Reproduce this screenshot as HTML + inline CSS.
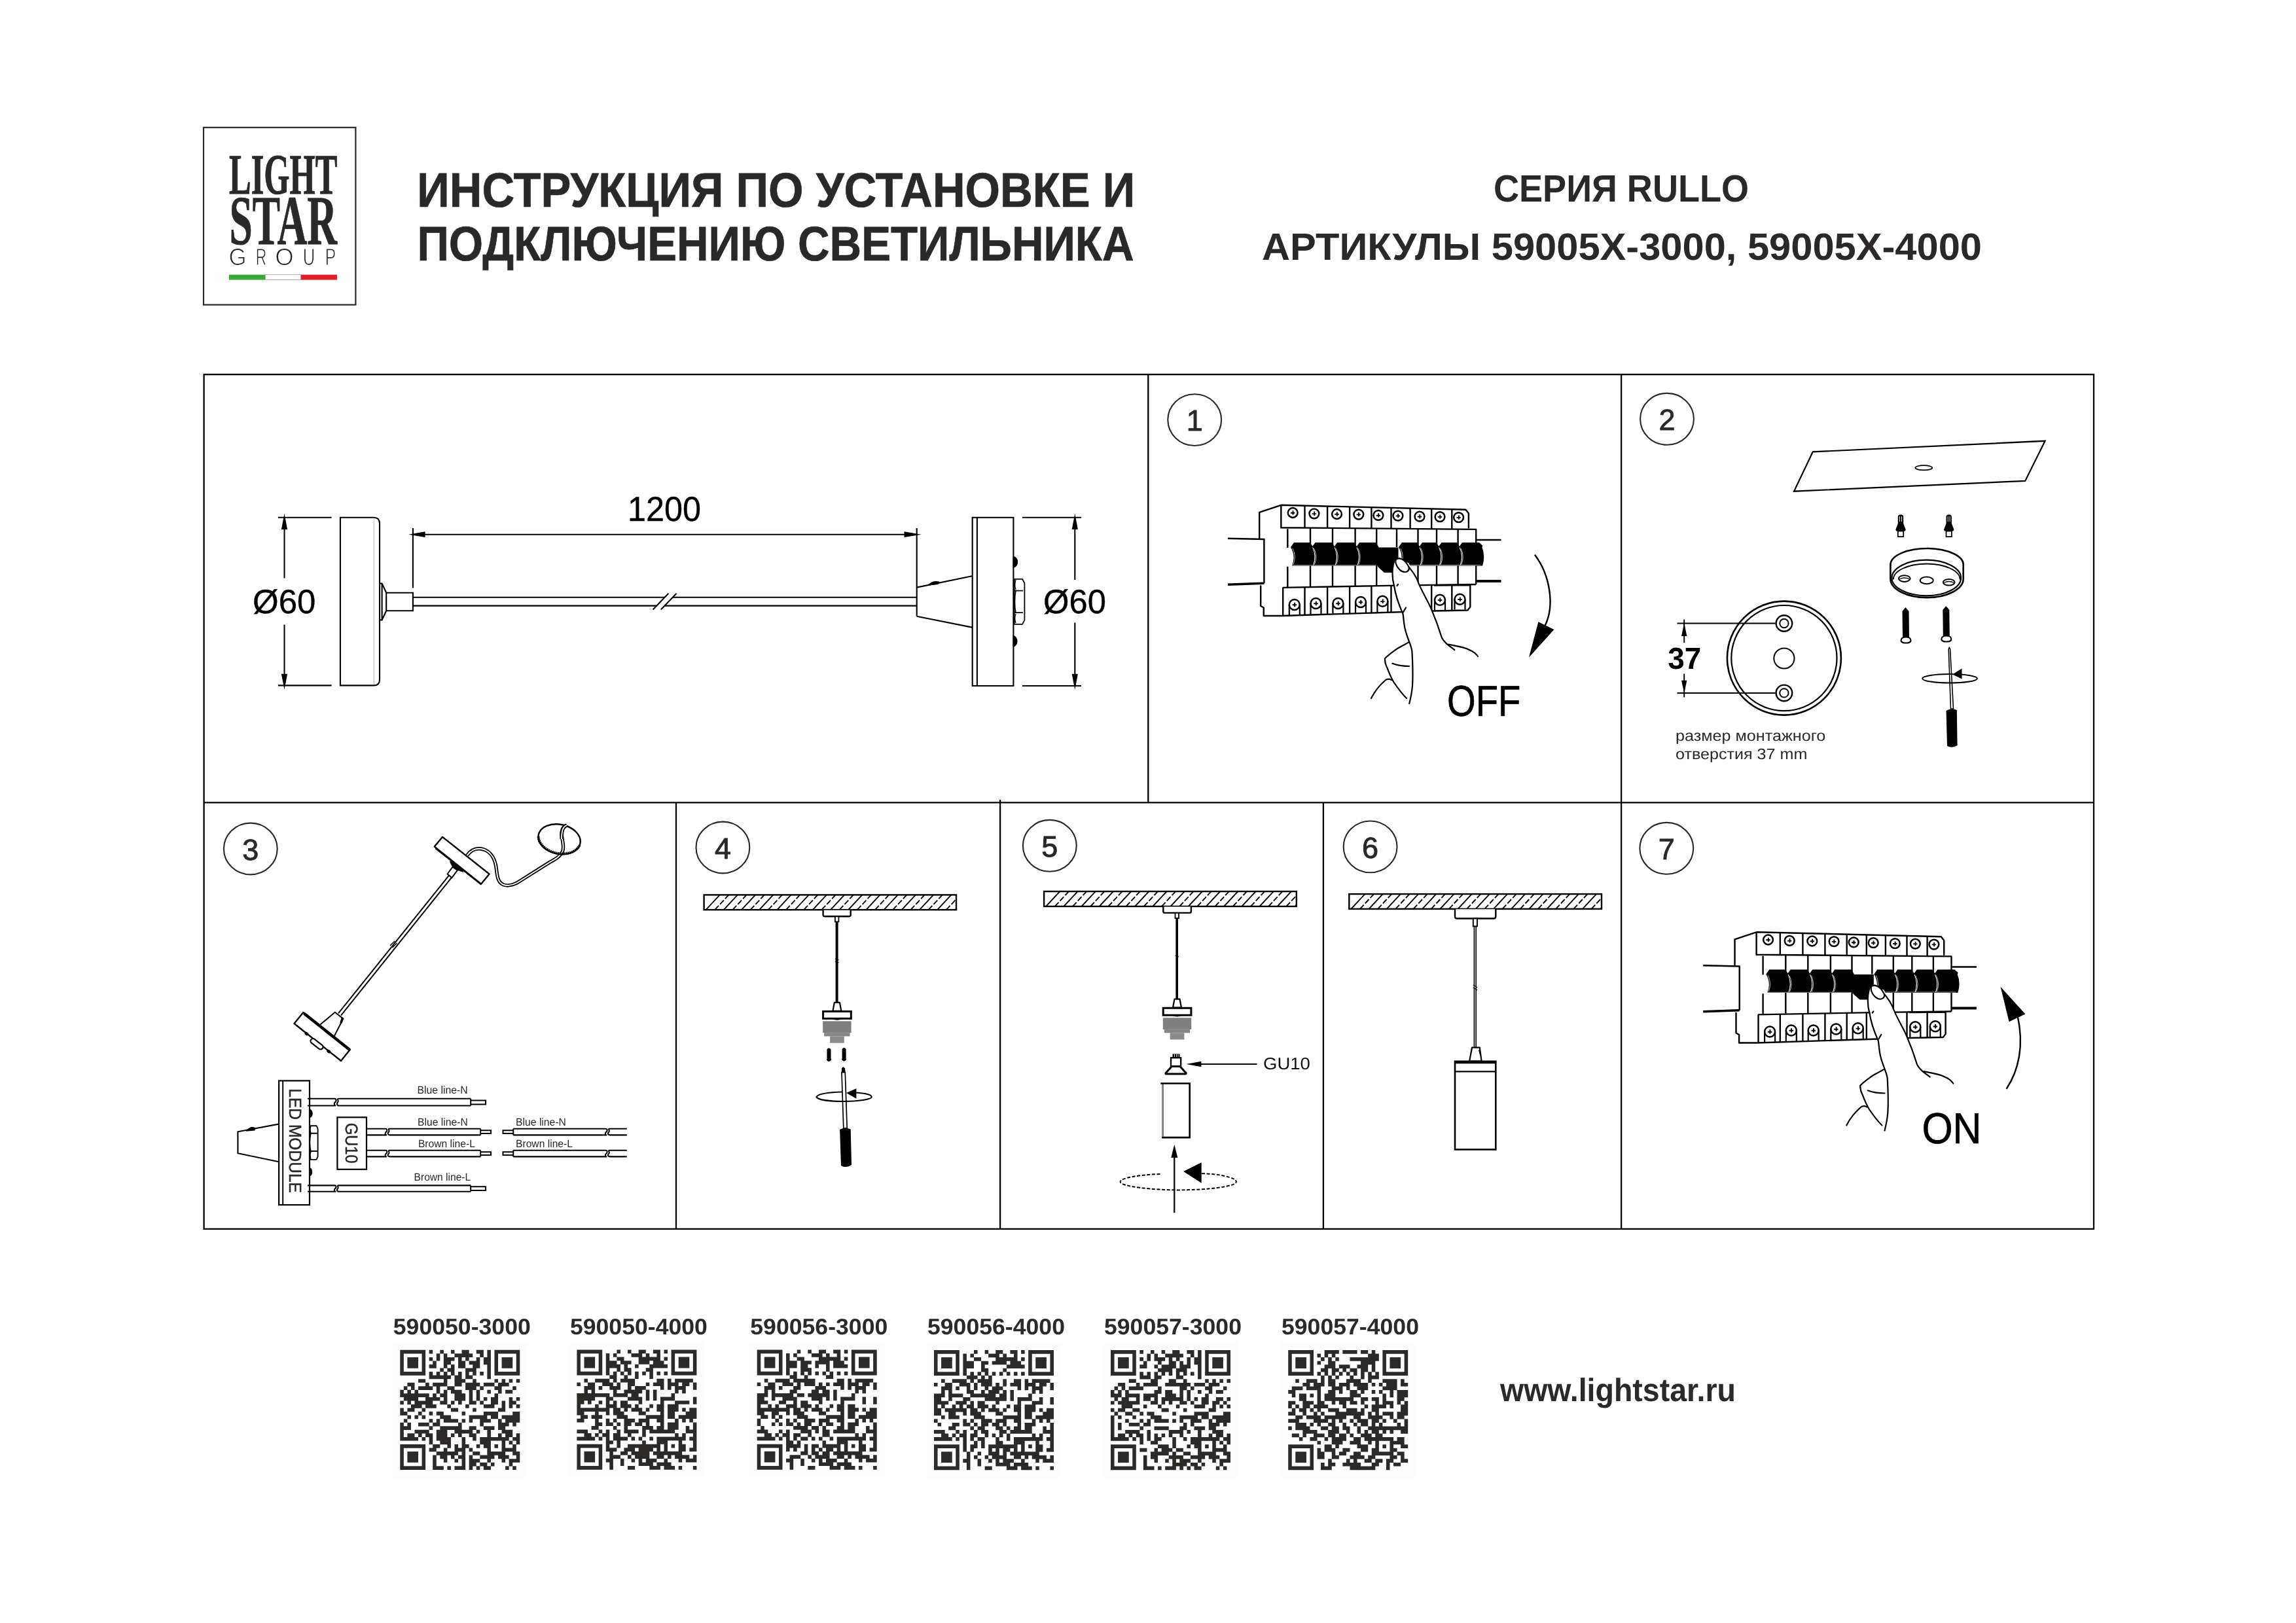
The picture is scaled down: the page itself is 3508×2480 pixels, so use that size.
<!DOCTYPE html>
<html><head><meta charset="utf-8"><title>Lightstar Rullo</title>
<style>html,body{margin:0;padding:0;background:#fff;}svg{display:block;will-change:transform;} text{-webkit-font-smoothing:antialiased;text-rendering:geometricPrecision;} body{-webkit-font-smoothing:antialiased;}</style></head>
<body><svg xmlns="http://www.w3.org/2000/svg" width="3508" height="2480" viewBox="0 0 3508 2480">
<rect width="3508" height="2480" fill="#fff"/>
<rect x="311" y="194.8" width="232.4" height="270.9" fill="none" stroke="#2b2828" stroke-width="2.2"/>
<text x="350" y="296.1" font-family="Liberation Serif" font-size="87.6" font-weight="bold" fill="#2b2828" textLength="165.3" lengthAdjust="spacingAndGlyphs" stroke="#2b2828" stroke-width="1">LIGHT</text>
<text x="350.6" y="373.1" font-family="Liberation Serif" font-size="107.2" font-weight="bold" fill="#2b2828" textLength="164.4" lengthAdjust="spacingAndGlyphs" stroke="#2b2828" stroke-width="0.8">STAR</text>
<text x="363" y="405.3" font-family="Liberation Sans" font-size="36.4" fill="#2b2828" textLength="27" lengthAdjust="spacingAndGlyphs" text-anchor="middle" stroke="#fff" stroke-width="0.9">G</text>
<text x="398.9" y="405.3" font-family="Liberation Sans" font-size="36.4" fill="#2b2828" textLength="16.5" lengthAdjust="spacingAndGlyphs" text-anchor="middle" stroke="#fff" stroke-width="0.9">R</text>
<text x="434.4" y="405.3" font-family="Liberation Sans" font-size="36.4" fill="#2b2828" textLength="28.5" lengthAdjust="spacingAndGlyphs" text-anchor="middle" stroke="#fff" stroke-width="0.9">O</text>
<text x="471.9" y="405.3" font-family="Liberation Sans" font-size="36.4" fill="#2b2828" textLength="18.5" lengthAdjust="spacingAndGlyphs" text-anchor="middle" stroke="#fff" stroke-width="0.9">U</text>
<text x="505.1" y="405.3" font-family="Liberation Sans" font-size="36.4" fill="#2b2828" textLength="16.5" lengthAdjust="spacingAndGlyphs" text-anchor="middle" stroke="#fff" stroke-width="0.9">P</text>
<rect x="350" y="419.7" width="55.3" height="7.9" fill="#3aaa35"/>
<rect x="405.3" y="419.7" width="54.5" height="7.9" fill="#ffffff" stroke="#9a9a9a" stroke-width="0.8"/>
<rect x="459.8" y="419.7" width="55.1" height="7.9" fill="#e31e24"/>
<text x="637.3" y="315.9" font-family="Liberation Sans" font-size="74.3" font-weight="bold" fill="#2b2828" textLength="1097" lengthAdjust="spacingAndGlyphs" stroke="#2b2828" stroke-width="0.7">ИНСТРУКЦИЯ ПО УСТАНОВКЕ И</text>
<text x="637.5" y="397.9" font-family="Liberation Sans" font-size="74.3" font-weight="bold" fill="#2b2828" textLength="1095" lengthAdjust="spacingAndGlyphs" stroke="#2b2828" stroke-width="0.7">ПОДКЛЮЧЕНИЮ СВЕТИЛЬНИКА</text>
<text x="2282" y="308" font-family="Liberation Sans" font-size="58.1" font-weight="bold" fill="#2b2828" textLength="390" lengthAdjust="spacingAndGlyphs" >СЕРИЯ RULLO</text>
<text x="1928" y="397" font-family="Liberation Sans" font-size="58.1" font-weight="bold" fill="#2b2828" textLength="1100" lengthAdjust="spacingAndGlyphs" >АРТИКУЛЫ 59005X-3000, 59005X-4000</text>
<rect x="311.6" y="572.2" width="2887.4" height="1305.7" stroke="#000" stroke-width="2.3" fill="none"/>
<path d="M311.6 1226.3H3199 M1754.3 572.2V1226.3 M2477.1 572.2V1877.9 M1033 1226.3V1877.9 M1528.1 1222V1877.9 M2021.9 1226.3V1877.9" stroke="#000" stroke-width="2.3" fill="none"/>
<ellipse cx="1825.2" cy="641.6" rx="40.9" ry="39.4" fill="none" stroke="#2b2828" stroke-width="2.1"/>
<text x="1825.2" y="658.2" font-family="Liberation Sans" font-size="45" fill="#2b2828" text-anchor="middle" stroke="#2b2828" stroke-width="0.9">1</text>
<ellipse cx="2547" cy="640.3" rx="40.9" ry="39.4" fill="none" stroke="#2b2828" stroke-width="2.1"/>
<text x="2547" y="656.9" font-family="Liberation Sans" font-size="45" fill="#2b2828" text-anchor="middle" stroke="#2b2828" stroke-width="0.9">2</text>
<ellipse cx="382.8" cy="1297" rx="40.9" ry="39.4" fill="none" stroke="#2b2828" stroke-width="2.1"/>
<text x="382.8" y="1313.6" font-family="Liberation Sans" font-size="45" fill="#2b2828" text-anchor="middle" stroke="#2b2828" stroke-width="0.9">3</text>
<ellipse cx="1104.4" cy="1295" rx="40.9" ry="39.4" fill="none" stroke="#2b2828" stroke-width="2.1"/>
<text x="1104.4" y="1311.6" font-family="Liberation Sans" font-size="45" fill="#2b2828" text-anchor="middle" stroke="#2b2828" stroke-width="0.9">4</text>
<ellipse cx="1603.8" cy="1292.3" rx="40.9" ry="39.4" fill="none" stroke="#2b2828" stroke-width="2.1"/>
<text x="1603.8" y="1308.8999999999999" font-family="Liberation Sans" font-size="45" fill="#2b2828" text-anchor="middle" stroke="#2b2828" stroke-width="0.9">5</text>
<ellipse cx="2093.6" cy="1293.9" rx="40.9" ry="39.4" fill="none" stroke="#2b2828" stroke-width="2.1"/>
<text x="2093.6" y="1310.5" font-family="Liberation Sans" font-size="45" fill="#2b2828" text-anchor="middle" stroke="#2b2828" stroke-width="0.9">6</text>
<ellipse cx="2546.3" cy="1296.3" rx="40.9" ry="39.4" fill="none" stroke="#2b2828" stroke-width="2.1"/>
<text x="2546.3" y="1312.8999999999999" font-family="Liberation Sans" font-size="45" fill="#2b2828" text-anchor="middle" stroke="#2b2828" stroke-width="0.9">7</text>
<path d="M424.9 790.8H506.6 M424.9 1047.4H506.6 M434.5 790V883.4 M434.5 954.5V1048" fill="none" stroke="#000" stroke-width="2.1"/>
<path d="M434.5 784.7L429.9 809.0L439.1 809.0Z" fill="#000"/>
<path d="M434.5 1054.0L439.1 1029.7L429.9 1029.7Z" fill="#000"/>
<text x="386" y="937.3" font-family="Liberation Sans" font-size="51.5" fill="#000" textLength="96.3" lengthAdjust="spacingAndGlyphs" stroke="#000" stroke-width="0.4">Ø60</text>
<path d="M519.9 790.8H571 Q580 790.8 580 800 V1038.4 Q580 1047.4 571 1047.4 H519.9Z" fill="none" stroke="#000" stroke-width="2.1"/>
<path d="M571.3 793V1045" stroke="#c8c8c8" stroke-width="1.3"/>
<path d="M580 891.5H583.6L590.2 905.7V933.2L583.6 947.4H580 M583.6 891.5V947.4" fill="none" stroke="#000" stroke-width="2.1"/>
<path d="M590.2 905.7H630.9V933.2H590.2" fill="none" stroke="#000" stroke-width="2.1"/>
<path d="M630.9 912.8H1016 M1028 912.8H1400.7 M630.9 925.6H1004 M1016 925.6H1400.7" fill="none" stroke="#000" stroke-width="2.1"/>
<path d="M997.6 931.5L1021.4 906.8 M1009.8 931.5L1033.6 906.8" fill="none" stroke="#000" stroke-width="2.1"/>
<path d="M630.9 807V898.6 M1400.7 807V941.7 M640 816.7H1395" fill="none" stroke="#000" stroke-width="2.1"/>
<path d="M624.2 816.7L649.6 821.1L649.6 812.3Z" fill="#000"/>
<path d="M1407.5 816.7L1381.5 812.3L1381.5 821.1Z" fill="#000"/>
<text x="959" y="795.9" font-family="Liberation Sans" font-size="53" fill="#000" textLength="112" lengthAdjust="spacingAndGlyphs" stroke="#000" stroke-width="0.4">1200</text>
<path d="M1400.7 897.6L1485.1 880.3 M1400.7 941.7L1485.1 958.6" fill="none" stroke="#000" stroke-width="2.1"/>
<path d="M1419.5 893.5 Q1426 887.5 1434 889.5 L1433 892 Z" fill="#000" stroke="#000" stroke-width="2"/>
<rect x="1485.7" y="790.8" width="62.7" height="257.2" fill="none" stroke="#000" stroke-width="2.1"/>
<path d="M1492.9 790.8V1048" fill="none" stroke="#000" stroke-width="2.1"/>
<path d="M1548.4 850.8 A6 7.8 0 0 1 1548.4 866.5Z M1548.4 971.8 A6 8 0 0 1 1548.4 987.7Z" fill="#000" stroke="#000" stroke-width="1.5"/>
<path d="M1549.8 884.8H1562L1565.4 891V947.6L1562 953.9H1549.8Z M1549.8 902.7H1563 M1549.8 936.2H1563" fill="none" stroke="#000" stroke-width="1.8"/>
<path d="M1552 902.7 Q1549 919.5 1552 936.2" fill="none" stroke="#000" stroke-width="1.5"/>
<path d="M1552 886 Q1549.5 894 1552 901 M1552 938 Q1549.5 945 1552 952" fill="none" stroke="#000" stroke-width="1.3"/>
<path d="M1562 790.8H1651.9 M1562 1048H1651.9 M1642.3 790V886 M1642.3 951.5V1048" fill="none" stroke="#000" stroke-width="2.1"/>
<path d="M1642.3 784.7L1637.7 809.0L1646.9 809.0Z" fill="#000"/>
<path d="M1642.3 1054.0L1646.9 1029.7L1637.7 1029.7Z" fill="#000"/>
<text x="1594.1" y="937.3" font-family="Liberation Sans" font-size="51.5" fill="#000" textLength="95.8" lengthAdjust="spacingAndGlyphs" stroke="#000" stroke-width="0.4">Ø60</text>
<g id="brk"><path d="M1875.9 822.7L1931.4 824V891.3 M1924.2 822.7V782.9L1957.3 771.8 M1926.2 894.6V926L1930.8 928.5V941H1958.9" fill="none" stroke="#000" stroke-width="2.4" stroke-linejoin="round"/>
<path d="M1875.9 893.3L1931.4 891.3" stroke="#000" stroke-width="3.6"/>
<path d="M1957.3 771.8L2239.4 778.7L2243.9 784.6V807.3 M1957.3 771.8V806.2 M1956.3 806.2L2255.2 808.9V893" fill="none" stroke="#000" stroke-width="2.4" stroke-linejoin="round"/>
<path d="M1993.5 772.7V806.5" fill="none" stroke="#000" stroke-width="2.4" stroke-linejoin="round"/>
<path d="M2028.1 773.5V806.8" fill="none" stroke="#000" stroke-width="2.4" stroke-linejoin="round"/>
<path d="M2062.1 774.4V807.2" fill="none" stroke="#000" stroke-width="2.4" stroke-linejoin="round"/>
<path d="M2095.4 775.2V807.5" fill="none" stroke="#000" stroke-width="2.4" stroke-linejoin="round"/>
<path d="M2125.5 775.9V807.7" fill="none" stroke="#000" stroke-width="2.4" stroke-linejoin="round"/>
<path d="M2154.6 776.6V808.0" fill="none" stroke="#000" stroke-width="2.4" stroke-linejoin="round"/>
<path d="M2187.2 777.4V808.3" fill="none" stroke="#000" stroke-width="2.4" stroke-linejoin="round"/>
<path d="M2218.3 778.2V808.6" fill="none" stroke="#000" stroke-width="2.4" stroke-linejoin="round"/>
<circle cx="1975.2" cy="783.5" r="7.4" fill="none" stroke="#000" stroke-width="2.5"/><path d="M1972.0 783.8H1978.4 M1975.5 780.3V786.7" fill="none" stroke="#000" stroke-width="1.9"/>
<circle cx="2007.9" cy="784.8" r="7.4" fill="none" stroke="#000" stroke-width="2.5"/><path d="M2004.7 785.0999999999999H2011.1000000000001 M2008.2 781.5999999999999V788.0" fill="none" stroke="#000" stroke-width="1.9"/>
<circle cx="2042.5" cy="785.5" r="7.4" fill="none" stroke="#000" stroke-width="2.5"/><path d="M2039.3 785.8H2045.7 M2042.8 782.3V788.7" fill="none" stroke="#000" stroke-width="1.9"/>
<circle cx="2075.8" cy="786.1" r="7.4" fill="none" stroke="#000" stroke-width="2.5"/><path d="M2072.6000000000004 786.4H2079.0 M2076.1000000000004 782.9V789.3000000000001" fill="none" stroke="#000" stroke-width="1.9"/>
<circle cx="2105.9" cy="787.4" r="7.4" fill="none" stroke="#000" stroke-width="2.5"/><path d="M2102.7000000000003 787.6999999999999H2109.1 M2106.2000000000003 784.1999999999999V790.6" fill="none" stroke="#000" stroke-width="1.9"/>
<circle cx="2135.9" cy="788.1" r="7.4" fill="none" stroke="#000" stroke-width="2.5"/><path d="M2132.7000000000003 788.4H2139.1 M2136.2000000000003 784.9V791.3000000000001" fill="none" stroke="#000" stroke-width="1.9"/>
<circle cx="2169" cy="789.2" r="7.4" fill="none" stroke="#000" stroke-width="2.5"/><path d="M2165.8 789.5H2172.2 M2169.3 786.0V792.4000000000001" fill="none" stroke="#000" stroke-width="1.9"/>
<circle cx="2200" cy="789.6" r="7.4" fill="none" stroke="#000" stroke-width="2.5"/><path d="M2196.8 789.9H2203.2 M2200.3 786.4V792.8000000000001" fill="none" stroke="#000" stroke-width="1.9"/>
<circle cx="2228.6" cy="790.6" r="7.4" fill="none" stroke="#000" stroke-width="2.5"/><path d="M2225.4 790.9H2231.7999999999997 M2228.9 787.4V793.8000000000001" fill="none" stroke="#000" stroke-width="1.9"/>
<path d="M1967.3 808.3V837 M1967.3 865.8V897.5" fill="none" stroke="#000" stroke-width="2.4" stroke-linejoin="round"/>
<path d="M2002 806.6V836 M2002 864V896.0" fill="none" stroke="#000" stroke-width="2.4" stroke-linejoin="round"/>
<path d="M2036 806.9V836 M2036 864V896.0" fill="none" stroke="#000" stroke-width="2.4" stroke-linejoin="round"/>
<path d="M2070.6 807.2V836 M2070.6 864V895.8" fill="none" stroke="#000" stroke-width="2.4" stroke-linejoin="round"/>
<path d="M2103.2 807.5V836 M2103.2 864V895.2" fill="none" stroke="#000" stroke-width="2.4" stroke-linejoin="round"/>
<path d="M2134 807.8V836 M2134 864V894.6" fill="none" stroke="#000" stroke-width="2.4" stroke-linejoin="round"/>
<path d="M2166.5 808.1V836 M2166.5 864V894.0" fill="none" stroke="#000" stroke-width="2.4" stroke-linejoin="round"/>
<path d="M2195 808.4V836 M2195 864V893.5" fill="none" stroke="#000" stroke-width="2.4" stroke-linejoin="round"/>
<path d="M2227.6 808.6V836 M2227.6 864V892.9" fill="none" stroke="#000" stroke-width="2.4" stroke-linejoin="round"/>
<path d="M2135 894.6L2255.2 893" fill="none" stroke="#000" stroke-width="2.4" stroke-linejoin="round"/>
<path d="M1972 836 L1977 829 H2001.5 L2005.5 835 Q2011.5 850 2006.5 864.5 H1974 Q1980 850 1972 836ZM2004.5 836 L2009.5 829 H2035 L2039 835 Q2045 850 2040 864.5 H2006.5 Q2012.5 850 2004.5 836ZM2038 836 L2043 829 H2069 L2073 835 Q2079 850 2074 864.5 H2040 Q2046 850 2038 836ZM2072 836 L2077 829 H2102 L2106 835 Q2112 850 2107 864.5 H2074 Q2080 850 2072 836ZM2137 836 L2142 829 H2165 L2169 835 Q2175 850 2170 864.5 H2139 Q2145 850 2137 836ZM2168 836 L2173 829 H2194.5 L2198.5 835 Q2204.5 850 2199.5 864.5 H2170 Q2176 850 2168 836ZM2197.5 836 L2202.5 829 H2226 L2230 835 Q2236 850 2231 864.5 H2199.5 Q2205.5 850 2197.5 836ZM2229 836 L2234 829 H2260 L2264 835 Q2270 850 2265 864.5 H2231 Q2237 850 2229 836Z" fill="#000"/>
<path d="M2005.7 836.5 Q2011.8 850 2006.7 863.5" fill="none" stroke="#fff" stroke-width="1"/>
<path d="M2039.2 836.5 Q2045.3 850 2040.2 863.5" fill="none" stroke="#fff" stroke-width="1"/>
<path d="M2073.2 836.5 Q2079.3 850 2074.2 863.5" fill="none" stroke="#fff" stroke-width="1"/>
<path d="M2169.2 836.5 Q2175.3 850 2170.2 863.5" fill="none" stroke="#fff" stroke-width="1"/>
<path d="M2198.7 836.5 Q2204.8 850 2199.7 863.5" fill="none" stroke="#fff" stroke-width="1"/>
<path d="M2230.2 836.5 Q2236.3 850 2231.2 863.5" fill="none" stroke="#fff" stroke-width="1"/>
<path d="M1975 838 Q1981 850 1976 862.5" fill="none" stroke="#fff" stroke-width="0.7"/>
<path d="M2007.5 838 Q2013.5 850 2008.5 862.5" fill="none" stroke="#fff" stroke-width="0.7"/>
<path d="M2041 838 Q2047 850 2042 862.5" fill="none" stroke="#fff" stroke-width="0.7"/>
<path d="M2075 838 Q2081 850 2076 862.5" fill="none" stroke="#fff" stroke-width="0.7"/>
<path d="M2140 838 Q2146 850 2141 862.5" fill="none" stroke="#fff" stroke-width="0.7"/>
<path d="M2171 838 Q2177 850 2172 862.5" fill="none" stroke="#fff" stroke-width="0.7"/>
<path d="M2200.5 838 Q2206.5 850 2201.5 862.5" fill="none" stroke="#fff" stroke-width="0.7"/>
<path d="M2232 838 Q2238 850 2233 862.5" fill="none" stroke="#fff" stroke-width="0.7"/>
<path d="M2260 829 L2265.5 834 L2261 842 Q2262 852 2258 860 L2255 864.5 H2262Z" fill="#000"/>
<path d="M1972 863.8 H2103 M2137 863.5 H2262" stroke="#fff" stroke-width="0.6"/>
<path d="M2104 836.5H2136.5V875H2115L2105 866Z" fill="#000"/>
<path d="M1959.5 897.9L2135.3 894.6 M1960.2 897.9V941 M1958.9 941L2191 933.5L2242.4 932.5L2246.3 927.5V894L2191 894.5" fill="none" stroke="#000" stroke-width="2.4" stroke-linejoin="round"/>
<path d="M1993.5 897.3V939.9" fill="none" stroke="#000" stroke-width="2.4" stroke-linejoin="round"/>
<path d="M2028.1 896.6V938.7" fill="none" stroke="#000" stroke-width="2.4" stroke-linejoin="round"/>
<path d="M2062.1 896.0V937.6" fill="none" stroke="#000" stroke-width="2.4" stroke-linejoin="round"/>
<path d="M2095.4 895.3V936.6" fill="none" stroke="#000" stroke-width="2.4" stroke-linejoin="round"/>
<path d="M2125.5 894.8V935.6" fill="none" stroke="#000" stroke-width="2.4" stroke-linejoin="round"/>
<path d="M2187.2 894.3V933.6" fill="none" stroke="#000" stroke-width="2.4" stroke-linejoin="round"/>
<path d="M2218.3 894.3V932.5" fill="none" stroke="#000" stroke-width="2.4" stroke-linejoin="round"/>
<circle cx="1977.8" cy="924" r="8" fill="none" stroke="#000" stroke-width="2.5"/><path d="M1974.6 924.3H1981.0 M1978.1 920.8V927.2" fill="none" stroke="#000" stroke-width="1.9"/>
<path d="M1969.8 924V939.9 M1985.8 924V939.9" fill="none" stroke="#000" stroke-width="2.2"/>
<circle cx="2010.5" cy="922" r="8" fill="none" stroke="#000" stroke-width="2.5"/><path d="M2007.3 922.3H2013.7 M2010.8 918.8V925.2" fill="none" stroke="#000" stroke-width="1.9"/>
<path d="M2002.5 922V938.8 M2018.5 922V938.8" fill="none" stroke="#000" stroke-width="2.2"/>
<circle cx="2044.4" cy="922" r="8" fill="none" stroke="#000" stroke-width="2.5"/><path d="M2041.2 922.3H2047.6000000000001 M2044.7 918.8V925.2" fill="none" stroke="#000" stroke-width="1.9"/>
<path d="M2036.4 922V937.7 M2052.4 922V937.7" fill="none" stroke="#000" stroke-width="2.2"/>
<circle cx="2079" cy="920" r="8" fill="none" stroke="#000" stroke-width="2.5"/><path d="M2075.8 920.3H2082.2 M2079.3 916.8V923.2" fill="none" stroke="#000" stroke-width="1.9"/>
<path d="M2071 920V936.6 M2087 920V936.6" fill="none" stroke="#000" stroke-width="2.2"/>
<circle cx="2112.4" cy="918.8" r="8" fill="none" stroke="#000" stroke-width="2.5"/><path d="M2109.2000000000003 919.0999999999999H2115.6 M2112.7000000000003 915.5999999999999V922.0" fill="none" stroke="#000" stroke-width="1.9"/>
<path d="M2104.4 918.8V935.5 M2120.4 918.8V935.5" fill="none" stroke="#000" stroke-width="2.2"/>
<circle cx="2200" cy="916.7" r="8" fill="none" stroke="#000" stroke-width="2.5"/><path d="M2196.8 917.0H2203.2 M2200.3 913.5V919.9000000000001" fill="none" stroke="#000" stroke-width="1.9"/>
<path d="M2192 916.7V932.6 M2208 916.7V932.6" fill="none" stroke="#000" stroke-width="2.2"/>
<circle cx="2230.5" cy="915.7" r="8" fill="none" stroke="#000" stroke-width="2.5"/><path d="M2227.3 916.0H2233.7 M2230.8 912.5V918.9000000000001" fill="none" stroke="#000" stroke-width="1.9"/>
<path d="M2222.5 915.7V931.6 M2238.5 915.7V931.6" fill="none" stroke="#000" stroke-width="2.2"/>
<path d="M2256 825H2293.6" stroke="#000" stroke-width="2.4"/>
<path d="M2256 888H2293.6" stroke="#000" stroke-width="3.8"/>
<path d="M2130 855 Q2125 870 2129.9 889.9 L2134.9 908.2 L2143.2 936.5 L2144.9 953.1 L2153.2 978.1 L2157.4 993 L2158.2 1043 L2170 1043 L2213 984.7 L2203.1 974.7 L2186.5 929.8 L2164.9 884.9 L2152 860 Z" fill="#fff"/>
<path d="M2131 855 C2126 868 2127 885 2130 895 C2133 915 2140 930 2143.5 938 C2145 948 2145 955 2147 962 C2150 975 2156 985 2157.4 995 C2158.5 1015 2158.5 1040 2158 1048 C2157 1060 2155 1068 2153.2 1075" fill="none" stroke="#000" stroke-width="2.2" stroke-linecap="round" stroke-linejoin="round"/>
<path d="M2138.5 853 C2150 862 2160 875 2165 885 C2170 900 2180 915 2186.5 929.8 C2193 945 2200 965 2203 974.7 C2207 982 2213 986 2222.3 993" fill="none" stroke="#000" stroke-width="2.2" stroke-linecap="round" stroke-linejoin="round"/>
<path d="M2213.1 984.7 C2225 987 2238 989 2245 993 C2252 996 2256 1000 2258 1003" fill="none" stroke="#000" stroke-width="2.2" stroke-linecap="round" stroke-linejoin="round"/>
<path d="M2134 854 C2140 852 2146 856 2150 862 C2154 868 2154 872 2148 874 C2141 875 2135 868 2133 862 C2132 858 2132 855 2134 854Z" fill="#fff" stroke="#000" stroke-width="2.2"/>
<path d="M2143.5 936 L2148 928.5 M2134.5 895 L2136 893" fill="none" stroke="#000" stroke-width="2.2" stroke-linecap="round" stroke-linejoin="round"/>
<path d="M2152.4 981.4 C2143 987 2135 990 2129.9 994.7 C2124 999 2119 1003 2115.8 1006.4 C2116 1012 2117 1016 2119.1 1019.7 C2123 1030 2126 1037 2129.9 1043 C2136 1052 2142 1060 2149 1067" fill="none" stroke="#000" stroke-width="2.2" stroke-linecap="round" stroke-linejoin="round"/>
<path d="M2127.4 1013.8 C2135 1017 2145 1018 2153.2 1018" fill="none" stroke="#000" stroke-width="2.2" stroke-linecap="round" stroke-linejoin="round"/>
<path d="M2095 1067 C2100 1057 2108 1047 2116 1040 C2119 1037 2122 1037 2126 1039" fill="none" stroke="#000" stroke-width="2.2" stroke-linecap="round" stroke-linejoin="round"/></g>
<path d="M2344.9 847.7 C2368 878 2376 925 2360.5 956" fill="none" stroke="#000" stroke-width="2.4"/>
<path d="M2336 1004.4 L2350.4 950.2 L2374.4 962 Z" fill="#000"/>
<text x="2211" y="1094" font-family="Liberation Sans" font-size="66.5" fill="#000" textLength="112.2" lengthAdjust="spacingAndGlyphs" stroke="#000" stroke-width="0.7">OFF</text>
<use href="#brk" transform="translate(726.3 652.5)"/>
<path d="M3065.6 1663.8 C3084 1636 3093 1598 3082.5 1552" fill="none" stroke="#000" stroke-width="2.4"/>
<path d="M3056.6 1508 L3069.6 1561.3 L3094.4 1549.4 Z" fill="#000"/>
<text x="2936.4" y="1746.6" font-family="Liberation Sans" font-size="66.5" fill="#000" textLength="91" lengthAdjust="spacingAndGlyphs" stroke="#000" stroke-width="0.7">ON</text>
<path d="M2769.8 690.4 L3124.6 673.8 L3094.2 734.9 L2741 750.7 Z" fill="none" stroke="#000" stroke-width="2.2"/>
<ellipse cx="2939.3" cy="714.8" rx="13" ry="3.6" fill="none" stroke="#000" stroke-width="1.8"/>
<path d="M2899.8 800 V790 Q2899.8 786.3 2904 786.3 Q2908.2 786.3 2908.2 790 V800 L2911.8 809.5 L2910.5 811.5 H2897.5 L2896.2 809.5 Z" fill="#000"/><path d="M2902.5 789V797 M2905.5 789V797" stroke="#fff" stroke-width="0.9"/><rect x="2899.8" y="811.5" width="8.4" height="8.6" fill="#fff" stroke="#000" stroke-width="1.8"/>
<path d="M2973.5 800 V790 Q2973.5 786.3 2977.7 786.3 Q2981.8999999999996 786.3 2981.8999999999996 790 V800 L2985.5 809.5 L2984.2 811.5 H2971.2 L2969.8999999999996 809.5 Z" fill="#000"/><path d="M2976.2 789V797 M2979.2 789V797" stroke="#fff" stroke-width="0.9"/><rect x="2973.5" y="811.5" width="8.4" height="8.6" fill="#fff" stroke="#000" stroke-width="1.8"/>
<path d="M2888.4 862 A55.6 25 0 0 1 2999.7 864 V884.5 A55.6 28.6 0 0 1 2888.4 884.5 Z" fill="#fff" stroke="#000" stroke-width="2.6"/>
<ellipse cx="2943.3" cy="883" rx="52.8" ry="27.3" fill="none" stroke="#000" stroke-width="2.2"/>
<path d="M2892.7 885.5 A51 24 0 0 1 2994.7 885.5" fill="none" stroke="#000" stroke-width="1.8"/>
<ellipse cx="2909.7" cy="884.1" rx="8.9" ry="4.8" fill="none" stroke="#000" stroke-width="2"/>
<path d="M2902 885 Q2909.7 881 2917.5 885" fill="none" stroke="#000" stroke-width="1.3"/>
<ellipse cx="2943.7" cy="886.9" rx="10" ry="5.3" fill="none" stroke="#000" stroke-width="2"/>
<ellipse cx="2977.7" cy="889.8" rx="8.9" ry="4.8" fill="none" stroke="#000" stroke-width="2"/>
<path d="M2970 890.5 Q2977.7 886.5 2985.5 890.5" fill="none" stroke="#000" stroke-width="1.3"/>
<path d="M2911.5 928 L2916.5 934 L2917 975 L2907 975 L2906.5 934 Z" fill="#000"/><path d="M2904.5 979 Q2904.5 973.5 2912 973.5 Q2919.5 973.5 2919.5 979 Q2919 982.5 2912 982.5 Q2905 982.5 2904.5 979Z" fill="#fff" stroke="#000" stroke-width="2.2"/>
<path d="M2973.3 926 L2978.3 932 L2978.8 973 L2968.8 973 L2968.3 932 Z" fill="#000"/><path d="M2966.3 977 Q2966.3 971.5 2973.8 971.5 Q2981.3 971.5 2981.3 977 Q2980.8 980.5 2973.8 980.5 Q2966.8 980.5 2966.3 977Z" fill="#fff" stroke="#000" stroke-width="2.2"/>
<path d="M2977.2 992 L2978.2 989.5 L2979.6 992 L2984.5 1083 L2980.5 1083 Z" fill="#fff" stroke="#000" stroke-width="1.6"/>
<path d="M2973.5 1086 Q2981.5 1081 2989.8 1085 L2990.6 1139 Q2982.5 1144 2975 1140 Z" fill="#000"/>
<ellipse cx="2979" cy="1036.8" rx="41.9" ry="6.8" fill="none" stroke="#000" stroke-width="2"/>
<path d="M2983.2 1030.6 L2997.5 1021.4 L2997.5 1037.4 Z" fill="#000"/>
<circle cx="2725.9" cy="1005.6" r="87" fill="none" stroke="#000" stroke-width="2.6"/>
<circle cx="2725.9" cy="1005.6" r="80.6" fill="none" stroke="#000" stroke-width="2.2"/>
<circle cx="2725.9" cy="1006" r="15.6" fill="none" stroke="#000" stroke-width="2"/>
<circle cx="2725.9" cy="952.5" r="12.3" fill="#fff" stroke="#000" stroke-width="2.4"/>
<circle cx="2725.9" cy="952.5" r="6.7" fill="none" stroke="#000" stroke-width="2"/>
<circle cx="2725.9" cy="1058.9" r="12.3" fill="#fff" stroke="#000" stroke-width="2.4"/>
<circle cx="2725.9" cy="1058.9" r="6.7" fill="none" stroke="#000" stroke-width="2"/>
<path d="M2562.5 952.5H2712.5 M2562.5 1058.9H2712.5 M2573.2 946.5V982 M2573.2 1029.6V1065.4" fill="none" stroke="#000" stroke-width="2"/>
<path d="M2573.2 952.0L2569.0 972.0L2577.4 972.0Z" fill="#000"/>
<path d="M2573.2 1059.0L2577.4 1039.8L2569.0 1039.8Z" fill="#000"/>
<text x="2548.3" y="1022.4" font-family="Liberation Sans" font-size="46.5" font-weight="bold" fill="#000" textLength="51.1" lengthAdjust="spacingAndGlyphs" >37</text>
<text x="2560" y="1132" font-family="Liberation Sans" font-size="23.3" fill="#2b2828" textLength="229.3" lengthAdjust="spacingAndGlyphs" >размер монтажного</text>
<text x="2560" y="1159.6" font-family="Liberation Sans" font-size="23.3" fill="#2b2828" textLength="201.4" lengthAdjust="spacingAndGlyphs" >отверстия 37 mm</text>
<path d="M463.4 1547.1 L534.9 1603.7 L521 1621 L449.5 1564 Z" fill="#fff" stroke="#000" stroke-width="2.4" stroke-linejoin="round"/>
<path d="M464.5 1548.5 L534 1604" stroke="#000" stroke-width="4.5"/>
<path d="M488.8 1566.1 L511.8 1546.8 L524.4 1556.6 L510.8 1583" fill="none" stroke="#000" stroke-width="2"/>
<path d="M523.5 1555 L521 1563" stroke="#000" stroke-width="3.5"/>
<ellipse cx="468.5" cy="1579.6" rx="3.2" ry="2.4" fill="#000" transform="rotate(38 468.5 1579.6)"/>
<ellipse cx="502.3" cy="1606.7" rx="3.2" ry="2.4" fill="#000" transform="rotate(38 502.3 1606.7)"/>
<rect x="473" y="1591.5" width="22" height="7.5" rx="3.7" fill="#fff" stroke="#000" stroke-width="2.2" transform="rotate(38 484 1595.2)"/>
<path d="M517.0 1548.4 L687.0 1336.4" stroke="#000" stroke-width="2"/>
<path d="M521.0 1551.6 L691.0 1339.6" stroke="#000" stroke-width="2"/>
<path d="M596 1445 L603 1438 M599.5 1448 L606.5 1441" stroke="#000" stroke-width="1.5"/>
<path d="M691.5 1324.7 L698.9 1329.8 L690.4 1341.2 L683.6 1335.5 Z" fill="#fff" stroke="#000" stroke-width="2"/>
<path d="M689 1318 Q692 1327 706 1331 L703 1325 Z" fill="#000" stroke="#000" stroke-width="2.5"/>
<path d="M676 1278.9 L747.6 1335.5 L735.1 1350.8 L663.8 1293.6 Z" fill="#fff" stroke="#000" stroke-width="2.4" stroke-linejoin="round"/>
<path d="M665 1296.5 L735 1352" stroke="#000" stroke-width="1.4"/>
<path d="M713.6 1307.2 C720 1298 728 1296 735 1297 C748 1299 755 1310 757.5 1322 C759.5 1333 759 1345 766 1350 C772 1355 782 1353 790 1349 L839.3 1317.9 C848 1313 856 1309 859.5 1301 C863 1292 858 1282 858 1274 C858 1267 861 1263 866 1261" fill="none" stroke="#000" stroke-width="5.4"/>
<path d="M713.6 1307.2 C720 1298 728 1296 735 1297 C748 1299 755 1310 757.5 1322 C759.5 1333 759 1345 766 1350 C772 1355 782 1353 790 1349 L839.3 1317.9 C848 1313 856 1309 859.5 1301 C863 1292 858 1282 858 1274 C858 1267 861 1263 866 1261" fill="none" stroke="#fff" stroke-width="1.8"/>
<g transform="rotate(12 854.6 1282.3)"><ellipse cx="854.6" cy="1282.3" rx="32.5" ry="22.5" fill="none" stroke="#000" stroke-width="2.4"/><path d="M822.5 1285 A32.5 22.5 0 0 0 886.7 1285" fill="none" stroke="#000" stroke-width="4" stroke-dasharray="2 1"/></g>
<path d="M858 1282 C858 1267 861 1263 866 1261" fill="none" stroke="#000" stroke-width="5.4"/>
<path d="M858 1282 C858 1267 861 1263 866 1261" fill="none" stroke="#fff" stroke-width="1.8"/>
<rect x="426.1" y="1651.4" width="46.9" height="189.7" fill="none" stroke="#000" stroke-width="2.2"/>
<path d="M432.2 1651.4V1841.1" stroke="#000" stroke-width="2"/>
<text x="0" y="0" font-family="Liberation Sans" font-size="26.3" fill="#2b2828" textLength="159.7" lengthAdjust="spacingAndGlyphs" stroke="#2b2828" stroke-width="0.5" transform="translate(441.9 1663.3) rotate(90)">LED MODULE</text>
<path d="M425.9 1717.6 L363.4 1729.3 V1762.2 L425.9 1775.2" fill="none" stroke="#000" stroke-width="2.1"/>
<path d="M378 1727.5 Q383 1721 389 1724 L388.5 1726.5Z" fill="#000" stroke="#000" stroke-width="2.2"/>
<path d="M473 1695.6 A4 5.8 0 0 1 473 1707.3Z M473 1785 A4 5.8 0 0 1 473 1796.5Z" fill="#000" stroke="#000" stroke-width="1.5"/>
<path d="M473 1720.2H483.5L485.6 1725V1767L483.5 1771.9H473 M473.5 1731.8H484.5 M473.5 1759H484.5" fill="none" stroke="#000" stroke-width="1.9"/>
<path d="M475 1732 Q472 1745.4 475 1759 M475 1721 Q473 1726 475 1731 M475 1760 Q473 1765 475 1771" fill="none" stroke="#000" stroke-width="1.4"/>
<path d="M470.1 1678.8H511.20000000000005 C514.2 1678.8 514.2 1682.545 512.2 1684.15 C510.20000000000005 1685.7549999999999 510.20000000000005 1689.5 513.2 1689.5 H470.1" fill="none" stroke="#000" stroke-width="2.1"/><path d="M719.2 1678.8H517.2 C514.2 1678.8 518.2 1682.545 516.2 1684.15 C514.2 1685.7549999999999 514.2 1689.5 518.2 1689.5 H719.2" fill="none" stroke="#000" stroke-width="2.1"/>
<path d="M719.2 1678.8V1689.5 M719.2 1681.6H742.1V1687.5H719.2" fill="none" stroke="#000" stroke-width="2"/>
<path d="M470.1 1811.4H511.20000000000005 C514.2 1811.4 514.2 1814.655 512.2 1816.0500000000002 C510.20000000000005 1817.4450000000002 510.20000000000005 1820.7 513.2 1820.7 H470.1" fill="none" stroke="#000" stroke-width="2.1"/><path d="M719.2 1811.4H517.2 C514.2 1811.4 518.2 1814.655 516.2 1816.0500000000002 C514.2 1817.4450000000002 514.2 1820.7 518.2 1820.7 H719.2" fill="none" stroke="#000" stroke-width="2.1"/>
<path d="M719.2 1811.4V1820.7 M719.2 1813.2H742.1V1819H719.2" fill="none" stroke="#000" stroke-width="2"/>
<rect x="515.4" y="1707.3" width="44.6" height="79.5" fill="none" stroke="#000" stroke-width="2.2"/>
<text x="0" y="0" font-family="Liberation Sans" font-size="26.3" fill="#2b2828" textLength="62" lengthAdjust="spacingAndGlyphs" stroke="#2b2828" stroke-width="0.5" transform="translate(528.3 1715.7) rotate(90)">GU10</text>
<path d="M560.7 1724.7H589 C592 1724.7 592 1728.095 590 1729.5500000000002 C588 1731.005 588 1734.4 591 1734.4 H560.7" fill="none" stroke="#000" stroke-width="2.1"/><path d="M734.2 1724.7H595 C592 1724.7 596 1728.095 594 1729.5500000000002 C592 1731.005 592 1734.4 596 1734.4 H734.2" fill="none" stroke="#000" stroke-width="2.1"/>
<path d="M734.2 1724.7V1734.4 M734.2 1727.2H750V1731.9H734.2" fill="none" stroke="#000" stroke-width="2"/>
<path d="M784.3 1724.7V1734.4 M784.3 1727.2H768.5V1731.9H784.3" fill="none" stroke="#000" stroke-width="2"/>
<path d="M784.3 1724.7H925.3 C928.3 1724.7 928.3 1728.095 926.3 1729.5500000000002 C924.3 1731.005 924.3 1734.4 927.3 1734.4 H784.3" fill="none" stroke="#000" stroke-width="2.1"/><path d="M957.8 1724.7H931.3 C928.3 1724.7 932.3 1728.095 930.3 1729.5500000000002 C928.3 1731.005 928.3 1734.4 932.3 1734.4 H957.8" fill="none" stroke="#000" stroke-width="2.1"/>
<path d="M560.7 1757.7H589 C592 1757.7 592 1761.095 590 1762.5500000000002 C588 1764.005 588 1767.4 591 1767.4 H560.7" fill="none" stroke="#000" stroke-width="2.1"/><path d="M734.2 1757.7H595 C592 1757.7 596 1761.095 594 1762.5500000000002 C592 1764.005 592 1767.4 596 1767.4 H734.2" fill="none" stroke="#000" stroke-width="2.1"/>
<path d="M734.2 1757.7V1767.4 M734.2 1760.2H750V1764.9H734.2" fill="none" stroke="#000" stroke-width="2"/>
<path d="M784.3 1757.7V1767.4 M784.3 1760.2H768.5V1764.9H784.3" fill="none" stroke="#000" stroke-width="2"/>
<path d="M784.3 1757.7H925.3 C928.3 1757.7 928.3 1761.095 926.3 1762.5500000000002 C924.3 1764.005 924.3 1767.4 927.3 1767.4 H784.3" fill="none" stroke="#000" stroke-width="2.1"/><path d="M957.8 1757.7H931.3 C928.3 1757.7 932.3 1761.095 930.3 1762.5500000000002 C928.3 1764.005 928.3 1767.4 932.3 1767.4 H957.8" fill="none" stroke="#000" stroke-width="2.1"/>
<text x="637.4" y="1671" font-family="Liberation Sans" font-size="16.5" fill="#2b2828" textLength="77.3" lengthAdjust="spacingAndGlyphs" >Blue line-N</text>
<text x="638.1" y="1719.8" font-family="Liberation Sans" font-size="16.5" fill="#2b2828" textLength="76.7" lengthAdjust="spacingAndGlyphs" >Blue line-N</text>
<text x="638.9" y="1753" font-family="Liberation Sans" font-size="16.5" fill="#2b2828" textLength="87" lengthAdjust="spacingAndGlyphs" >Brown line-L</text>
<text x="788" y="1719.8" font-family="Liberation Sans" font-size="16.5" fill="#2b2828" textLength="77" lengthAdjust="spacingAndGlyphs" >Blue line-N</text>
<text x="788" y="1753" font-family="Liberation Sans" font-size="16.5" fill="#2b2828" textLength="87" lengthAdjust="spacingAndGlyphs" >Brown line-L</text>
<text x="632.6" y="1804" font-family="Liberation Sans" font-size="16.5" fill="#2b2828" textLength="86.6" lengthAdjust="spacingAndGlyphs" >Brown line-L</text>
<rect x="1075.6" y="1367.4" width="385.4" height="22.8" fill="#fff" stroke="#000" stroke-width="2.4"/><clipPath id="c1075"><rect x="1075.6" y="1367.4" width="385.4" height="22.8"/></clipPath><g clip-path="url(#c1075)"><path d="M1078.6 1390.2L1099.8 1367.4M1105.8 1390.2L1127.0 1367.4M1133.0 1390.2L1154.2 1367.4M1160.2 1390.2L1181.4 1367.4M1187.4 1390.2L1208.6 1367.4M1214.6 1390.2L1235.8 1367.4M1241.8 1390.2L1263.0 1367.4M1269.0 1390.2L1290.2 1367.4M1296.2 1390.2L1317.4 1367.4M1323.4 1390.2L1344.6 1367.4M1350.6 1390.2L1371.8 1367.4M1377.8 1390.2L1399.0 1367.4M1405.0 1390.2L1426.2 1367.4M1432.2 1390.2L1453.4 1367.4M1459.4 1390.2L1480.6 1367.4" stroke="#000" stroke-width="1.9"/><path d="M1092.2 1390.2L1113.4 1367.4M1119.4 1390.2L1140.6 1367.4M1146.6 1390.2L1167.8 1367.4M1173.8 1390.2L1195.0 1367.4M1201.0 1390.2L1222.2 1367.4M1228.2 1390.2L1249.4 1367.4M1255.4 1390.2L1276.6 1367.4M1282.6 1390.2L1303.8 1367.4M1309.8 1390.2L1331.0 1367.4M1337.0 1390.2L1358.2 1367.4M1364.2 1390.2L1385.4 1367.4M1391.4 1390.2L1412.6 1367.4M1418.6 1390.2L1439.8 1367.4M1445.8 1390.2L1467.0 1367.4M1473.0 1390.2L1494.2 1367.4" stroke="#000" stroke-width="1.9" stroke-dasharray="8.5 3"/></g>
<path d="M1257.6 1390.8 V1397.8 Q1257.6 1400.3 1260.1 1400.3 H1297.2 Q1299.7 1400.3 1299.7 1397.8 V1390.8" fill="#fff" stroke="#000" stroke-width="2.4"/>
<rect x="1275.9" y="1400.3" width="5.5" height="8.2" fill="#fff" stroke="#000" stroke-width="1.8"/>
<path d="M1278.6 1408.5V1532" stroke="#000" stroke-width="4"/>
<path d="M1276 1465 L1281.5 1467 M1276 1469 L1281.5 1471" stroke="#000" stroke-width="1.2"/>
<path d="M1274.9 1531.9 H1282.9 L1285.4 1544.9 H1272.4 Z" fill="#fff" stroke="#000" stroke-width="2.2" stroke-linejoin="round"/><rect x="1257.6000000000001" y="1545.5" width="42.7" height="10.9" fill="#fff" stroke="#000" stroke-width="3"/><path d="M1270.9 1556.4 Q1278.9 1560.9 1286.9 1556.4Z" fill="#000"/><rect x="1257.2" y="1560.4" width="43.4" height="17.7" fill="#7f7f7f"/><rect x="1259.2" y="1578.1000000000001" width="39.3" height="5.4" fill="#858585"/><rect x="1268.1000000000001" y="1583.5" width="21.7" height="10.2" fill="#8a8a8a"/>
<path d="M1263.5 1603.5 Q1266.5 1599.5 1269.5 1603.5 V1617.5 L1270.1 1619.5 Q1266.5 1624.5 1262.9 1619.5 L1263.5 1617.5Z" fill="#000"/>
<path d="M1286.6 1602.9 Q1289.6 1598.9 1292.6 1602.9 V1616.9 L1293.1999999999998 1618.9 Q1289.6 1623.9 1286.0 1618.9 L1286.6 1616.9Z" fill="#000"/>
<path d="M1288.3 1630 L1291 1632.5 L1291.6 1638.6 L1285.8 1638.6 L1286 1632.5 Z" fill="#000"/>
<path d="M1286 1638.6 L1288.8 1724 L1294.2 1724 L1291.3 1638.6 Z" fill="#fff" stroke="#000" stroke-width="1.7"/>
<path d="M1283.1 1726 Q1291 1722 1299.7 1725.5 L1301 1780 Q1293 1786 1285 1781 Z" fill="#000"/>
<path d="M1286.5 1668.5 C1270 1669 1250 1671 1247.4 1676.2 C1250 1681 1270 1683 1289.5 1683 C1310 1683 1331.7 1680 1331.7 1676.2 C1331.7 1672 1318 1670 1305 1669.5" fill="none" stroke="#000" stroke-width="2.2"/>
<path d="M1293 1670 L1308.4 1663.3 L1308.4 1678.7 Z" fill="#000"/>
<rect x="1595.1" y="1362.1" width="385.7" height="22.9" fill="#fff" stroke="#000" stroke-width="2.4"/><clipPath id="c1595"><rect x="1595.1" y="1362.1" width="385.7" height="22.9"/></clipPath><g clip-path="url(#c1595)"><path d="M1598.1 1385.0L1619.4 1362.1M1625.3 1385.0L1646.6 1362.1M1652.5 1385.0L1673.8 1362.1M1679.7 1385.0L1701.0 1362.1M1706.9 1385.0L1728.2 1362.1M1734.1 1385.0L1755.4 1362.1M1761.3 1385.0L1782.6 1362.1M1788.5 1385.0L1809.8 1362.1M1815.7 1385.0L1837.0 1362.1M1842.9 1385.0L1864.2 1362.1M1870.1 1385.0L1891.4 1362.1M1897.3 1385.0L1918.6 1362.1M1924.5 1385.0L1945.8 1362.1M1951.7 1385.0L1973.0 1362.1M1978.9 1385.0L2000.2 1362.1" stroke="#000" stroke-width="1.9"/><path d="M1611.7 1385.0L1633.0 1362.1M1638.9 1385.0L1660.2 1362.1M1666.1 1385.0L1687.4 1362.1M1693.3 1385.0L1714.6 1362.1M1720.5 1385.0L1741.8 1362.1M1747.7 1385.0L1769.0 1362.1M1774.9 1385.0L1796.2 1362.1M1802.1 1385.0L1823.4 1362.1M1829.3 1385.0L1850.6 1362.1M1856.5 1385.0L1877.8 1362.1M1883.7 1385.0L1905.0 1362.1M1910.9 1385.0L1932.2 1362.1M1938.1 1385.0L1959.4 1362.1M1965.3 1385.0L1986.6 1362.1M1992.5 1385.0L2013.8 1362.1" stroke="#000" stroke-width="1.9" stroke-dasharray="8.5 3"/></g>
<path d="M1777.3 1385.5 V1392.4 Q1777.3 1394.9 1779.8 1394.9 H1817.4 Q1819.9 1394.9 1819.9 1392.4 V1385.5" fill="#fff" stroke="#000" stroke-width="2.4"/>
<rect x="1795.5" y="1394.9" width="5.5" height="8.2" fill="#fff" stroke="#000" stroke-width="1.8"/>
<path d="M1798.2 1403V1527" stroke="#000" stroke-width="3.6"/>
<path d="M1795.5 1460 L1801 1462" stroke="#000" stroke-width="1.2"/>
<path d="M1794.5 1526.7 H1802.5 L1805.0 1539.7 H1792.0 Z" fill="#fff" stroke="#000" stroke-width="2.2" stroke-linejoin="round"/><rect x="1777.2" y="1540.3" width="42.7" height="10.9" fill="#fff" stroke="#000" stroke-width="3"/><path d="M1790.5 1551.2 Q1798.5 1555.7 1806.5 1551.2Z" fill="#000"/><rect x="1776.8" y="1555.2" width="43.4" height="17.7" fill="#7f7f7f"/><rect x="1778.8" y="1572.9" width="39.3" height="5.4" fill="#858585"/><rect x="1787.7" y="1578.3" width="21.7" height="10.2" fill="#8a8a8a"/>
<rect x="1791.5" y="1610.5" width="11" height="5.6" fill="#000"/>
<path d="M1794.5 1611V1615 M1797.5 1611V1615 M1800 1611V1615" stroke="#fff" stroke-width="0.8"/>
<rect x="1789" y="1616.3" width="15.2" height="13" fill="#fff" stroke="#000" stroke-width="2.3"/>
<path d="M1790.3 1629.4 H1802.9 L1812.2 1639.8 Q1812.5 1641 1811 1641 H1782 Q1780.5 1641 1781 1639.8 Z" fill="#fff" stroke="#000" stroke-width="3" stroke-linejoin="round"/>
<path d="M1830 1626H1920.5" stroke="#000" stroke-width="2.2"/>
<path d="M1812.5 1626 L1835.4 1621.8 L1835.4 1630.2 Z" fill="#000"/>
<text x="1930" y="1634.3" font-family="Liberation Sans" font-size="25.8" fill="#111" textLength="71.9" lengthAdjust="spacingAndGlyphs" >GU10</text>
<path d="M1773.3 1655.5H1817.7V1738.1H1776.3V1655.5" fill="none" stroke="#000" stroke-width="2.6"/>
<path d="M1776.3 1657V1737" stroke="#888" stroke-width="2.6"/>
<path d="M1794.3 1853.2V1762" stroke="#000" stroke-width="2.2"/>
<path d="M1794.3 1748.7 L1789.3 1769 L1799.3 1769 Z" fill="#000"/>
<path d="M1772.5 1794 C1740 1795 1712 1800 1711.5 1805.8 C1712 1813 1760 1818.4 1800.2 1818.4 C1845 1818.4 1888.9 1813 1888.9 1805.8 C1888.9 1799 1860 1793.5 1836 1793.2" fill="none" stroke="#000" stroke-width="2" stroke-dasharray="5 2.6"/>
<path d="M1808.1 1790.1 L1835.7 1776.2 L1835.7 1807.8 Z" fill="#000"/>
<rect x="2061.3" y="1366.1" width="385.7" height="22.8" fill="#fff" stroke="#000" stroke-width="2.4"/><clipPath id="c2061"><rect x="2061.3" y="1366.1" width="385.7" height="22.8"/></clipPath><g clip-path="url(#c2061)"><path d="M2064.3 1388.9L2085.5 1366.1M2091.5 1388.9L2112.7 1366.1M2118.7 1388.9L2139.9 1366.1M2145.9 1388.9L2167.1 1366.1M2173.1 1388.9L2194.3 1366.1M2200.3 1388.9L2221.5 1366.1M2227.5 1388.9L2248.7 1366.1M2254.7 1388.9L2275.9 1366.1M2281.9 1388.9L2303.1 1366.1M2309.1 1388.9L2330.3 1366.1M2336.3 1388.9L2357.5 1366.1M2363.5 1388.9L2384.7 1366.1M2390.7 1388.9L2411.9 1366.1M2417.9 1388.9L2439.1 1366.1M2445.1 1388.9L2466.3 1366.1" stroke="#000" stroke-width="1.9"/><path d="M2077.9 1388.9L2099.1 1366.1M2105.1 1388.9L2126.3 1366.1M2132.3 1388.9L2153.5 1366.1M2159.5 1388.9L2180.7 1366.1M2186.7 1388.9L2207.9 1366.1M2213.9 1388.9L2235.1 1366.1M2241.1 1388.9L2262.3 1366.1M2268.3 1388.9L2289.5 1366.1M2295.5 1388.9L2316.7 1366.1M2322.7 1388.9L2343.9 1366.1M2349.9 1388.9L2371.1 1366.1M2377.1 1388.9L2398.3 1366.1M2404.3 1388.9L2425.5 1366.1M2431.5 1388.9L2452.7 1366.1M2458.7 1388.9L2479.9 1366.1" stroke="#000" stroke-width="1.9" stroke-dasharray="8.5 3"/></g>
<path d="M2223 1389.2 V1400.5 Q2223 1403.5 2226 1403.5 H2282.3 Q2285.3 1403.5 2285.3 1400.5 V1389.2" fill="#fff" stroke="#000" stroke-width="2.4"/>
<rect x="2250.8" y="1403.5" width="6.2" height="11.9" fill="#fff" stroke="#000" stroke-width="1.9"/>
<path d="M2252.4 1415.4V1600.7 M2255.2 1415.4V1600.7" stroke="#000" stroke-width="1.6"/>
<path d="M2251 1505 L2257 1509 M2251 1509 L2257 1513" stroke="#000" stroke-width="1.3"/>
<path d="M2249 1600.7 H2260.8 L2263.6 1621.6 H2245.1 Z" fill="#fff" stroke="#000" stroke-width="2.2" stroke-linejoin="round"/>
<path d="M2260 1604 L2262 1612" stroke="#000" stroke-width="2"/>
<rect x="2223" y="1621.8" width="62.3" height="134.7" fill="#fff" stroke="#000" stroke-width="2.6"/>
<path d="M2223 1624H2285.3 M2223 1637.4H2285.3" stroke="#000" stroke-width="2.4"/>
<rect x="599.3" y="2050.8" width="207" height="207" fill="#fdfdfd"/>
<path d="M611.30 2062.80h38.82v5.70h-38.82zM655.66 2062.80h5.55v5.70h-5.55zM672.30 2062.80h5.55v5.70h-5.55zM688.94 2062.80h5.55v5.70h-5.55zM705.57 2062.80h11.09v5.70h-11.09zM727.75 2062.80h11.09v5.70h-11.09zM744.39 2062.80h5.55v5.70h-5.55zM755.48 2062.80h38.82v5.70h-38.82zM611.30 2068.35h5.55v5.70h-5.55zM644.57 2068.35h5.55v5.70h-5.55zM666.75 2068.35h5.55v5.70h-5.55zM677.85 2068.35h5.55v5.70h-5.55zM694.48 2068.35h27.73v5.70h-27.73zM733.30 2068.35h5.55v5.70h-5.55zM744.39 2068.35h5.55v5.70h-5.55zM755.48 2068.35h5.55v5.70h-5.55zM788.75 2068.35h5.55v5.70h-5.55zM611.30 2073.89h5.55v5.70h-5.55zM622.39 2073.89h16.64v5.70h-16.64zM644.57 2073.89h5.55v5.70h-5.55zM655.66 2073.89h5.55v5.70h-5.55zM666.75 2073.89h5.55v5.70h-5.55zM677.85 2073.89h16.64v5.70h-16.64zM700.03 2073.89h5.55v5.70h-5.55zM711.12 2073.89h5.55v5.70h-5.55zM727.75 2073.89h5.55v5.70h-5.55zM738.85 2073.89h11.09v5.70h-11.09zM755.48 2073.89h5.55v5.70h-5.55zM766.57 2073.89h16.64v5.70h-16.64zM788.75 2073.89h5.55v5.70h-5.55zM611.30 2079.44h5.55v5.70h-5.55zM622.39 2079.44h16.64v5.70h-16.64zM644.57 2079.44h5.55v5.70h-5.55zM661.21 2079.44h5.55v5.70h-5.55zM677.85 2079.44h11.09v5.70h-11.09zM700.03 2079.44h11.09v5.70h-11.09zM716.66 2079.44h16.64v5.70h-16.64zM738.85 2079.44h11.09v5.70h-11.09zM755.48 2079.44h5.55v5.70h-5.55zM766.57 2079.44h16.64v5.70h-16.64zM788.75 2079.44h5.55v5.70h-5.55zM611.30 2084.98h5.55v5.70h-5.55zM622.39 2084.98h16.64v5.70h-16.64zM644.57 2084.98h5.55v5.70h-5.55zM655.66 2084.98h11.09v5.70h-11.09zM677.85 2084.98h5.55v5.70h-5.55zM688.94 2084.98h5.55v5.70h-5.55zM700.03 2084.98h11.09v5.70h-11.09zM722.21 2084.98h11.09v5.70h-11.09zM744.39 2084.98h5.55v5.70h-5.55zM755.48 2084.98h5.55v5.70h-5.55zM766.57 2084.98h16.64v5.70h-16.64zM788.75 2084.98h5.55v5.70h-5.55zM611.30 2090.53h5.55v5.70h-5.55zM644.57 2090.53h5.55v5.70h-5.55zM672.30 2090.53h5.55v5.70h-5.55zM683.39 2090.53h11.09v5.70h-11.09zM711.12 2090.53h16.64v5.70h-16.64zM744.39 2090.53h5.55v5.70h-5.55zM755.48 2090.53h5.55v5.70h-5.55zM788.75 2090.53h5.55v5.70h-5.55zM611.30 2096.07h38.82v5.70h-38.82zM655.66 2096.07h5.55v5.70h-5.55zM666.75 2096.07h5.55v5.70h-5.55zM677.85 2096.07h5.55v5.70h-5.55zM688.94 2096.07h5.55v5.70h-5.55zM700.03 2096.07h5.55v5.70h-5.55zM711.12 2096.07h5.55v5.70h-5.55zM722.21 2096.07h5.55v5.70h-5.55zM733.30 2096.07h5.55v5.70h-5.55zM744.39 2096.07h5.55v5.70h-5.55zM755.48 2096.07h38.82v5.70h-38.82zM655.66 2101.62h33.27v5.70h-33.27zM694.48 2101.62h11.09v5.70h-11.09zM711.12 2101.62h11.09v5.70h-11.09zM744.39 2101.62h5.55v5.70h-5.55zM639.03 2107.16h11.09v5.70h-11.09zM677.85 2107.16h5.55v5.70h-5.55zM694.48 2107.16h16.64v5.70h-16.64zM722.21 2107.16h5.55v5.70h-5.55zM755.48 2107.16h5.55v5.70h-5.55zM766.57 2107.16h5.55v5.70h-5.55zM777.66 2107.16h5.55v5.70h-5.55zM788.75 2107.16h5.55v5.70h-5.55zM622.39 2112.71h11.09v5.70h-11.09zM650.12 2112.71h5.55v5.70h-5.55zM661.21 2112.71h22.18v5.70h-22.18zM694.48 2112.71h11.09v5.70h-11.09zM711.12 2112.71h22.18v5.70h-22.18zM738.85 2112.71h16.64v5.70h-16.64zM761.03 2112.71h16.64v5.70h-16.64zM616.85 2118.25h5.55v5.70h-5.55zM627.94 2118.25h5.55v5.70h-5.55zM639.03 2118.25h22.18v5.70h-22.18zM666.75 2118.25h5.55v5.70h-5.55zM683.39 2118.25h11.09v5.70h-11.09zM711.12 2118.25h16.64v5.70h-16.64zM733.30 2118.25h5.55v5.70h-5.55zM755.48 2118.25h11.09v5.70h-11.09zM783.21 2118.25h5.55v5.70h-5.55zM611.30 2123.80h5.55v5.70h-5.55zM622.39 2123.80h5.55v5.70h-5.55zM633.48 2123.80h5.55v5.70h-5.55zM666.75 2123.80h5.55v5.70h-5.55zM677.85 2123.80h5.55v5.70h-5.55zM688.94 2123.80h16.64v5.70h-16.64zM716.66 2123.80h5.55v5.70h-5.55zM727.75 2123.80h5.55v5.70h-5.55zM744.39 2123.80h5.55v5.70h-5.55zM761.03 2123.80h5.55v5.70h-5.55zM772.12 2123.80h11.09v5.70h-11.09zM611.30 2129.35h44.36v5.70h-44.36zM661.21 2129.35h5.55v5.70h-5.55zM672.30 2129.35h11.09v5.70h-11.09zM694.48 2129.35h16.64v5.70h-16.64zM716.66 2129.35h5.55v5.70h-5.55zM727.75 2129.35h5.55v5.70h-5.55zM755.48 2129.35h5.55v5.70h-5.55zM616.85 2134.89h22.18v5.70h-22.18zM650.12 2134.89h22.18v5.70h-22.18zM677.85 2134.89h5.55v5.70h-5.55zM694.48 2134.89h16.64v5.70h-16.64zM716.66 2134.89h5.55v5.70h-5.55zM727.75 2134.89h5.55v5.70h-5.55zM738.85 2134.89h5.55v5.70h-5.55zM749.94 2134.89h11.09v5.70h-11.09zM777.66 2134.89h5.55v5.70h-5.55zM788.75 2134.89h5.55v5.70h-5.55zM611.30 2140.44h5.55v5.70h-5.55zM622.39 2140.44h5.55v5.70h-5.55zM633.48 2140.44h27.73v5.70h-27.73zM672.30 2140.44h11.09v5.70h-11.09zM688.94 2140.44h5.55v5.70h-5.55zM700.03 2140.44h5.55v5.70h-5.55zM716.66 2140.44h11.09v5.70h-11.09zM733.30 2140.44h5.55v5.70h-5.55zM749.94 2140.44h11.09v5.70h-11.09zM766.57 2140.44h5.55v5.70h-5.55zM777.66 2140.44h11.09v5.70h-11.09zM627.94 2145.98h16.64v5.70h-16.64zM650.12 2145.98h16.64v5.70h-16.64zM683.39 2145.98h5.55v5.70h-5.55zM711.12 2145.98h5.55v5.70h-5.55zM738.85 2145.98h16.64v5.70h-16.64zM766.57 2145.98h5.55v5.70h-5.55zM777.66 2145.98h5.55v5.70h-5.55zM788.75 2145.98h5.55v5.70h-5.55zM611.30 2151.53h5.55v5.70h-5.55zM622.39 2151.53h11.09v5.70h-11.09zM644.57 2151.53h5.55v5.70h-5.55zM688.94 2151.53h11.09v5.70h-11.09zM722.21 2151.53h5.55v5.70h-5.55zM761.03 2151.53h11.09v5.70h-11.09zM611.30 2157.07h11.09v5.70h-11.09zM639.03 2157.07h5.55v5.70h-5.55zM655.66 2157.07h5.55v5.70h-5.55zM666.75 2157.07h11.09v5.70h-11.09zM705.57 2157.07h5.55v5.70h-5.55zM738.85 2157.07h22.18v5.70h-22.18zM783.21 2157.07h11.09v5.70h-11.09zM622.39 2162.62h5.55v5.70h-5.55zM633.48 2162.62h5.55v5.70h-5.55zM644.57 2162.62h5.55v5.70h-5.55zM672.30 2162.62h16.64v5.70h-16.64zM716.66 2162.62h27.73v5.70h-27.73zM749.94 2162.62h11.09v5.70h-11.09zM766.57 2162.62h27.73v5.70h-27.73zM616.85 2168.16h5.55v5.70h-5.55zM655.66 2168.16h5.55v5.70h-5.55zM666.75 2168.16h5.55v5.70h-5.55zM677.85 2168.16h22.18v5.70h-22.18zM705.57 2168.16h5.55v5.70h-5.55zM716.66 2168.16h5.55v5.70h-5.55zM733.30 2168.16h16.64v5.70h-16.64zM761.03 2168.16h5.55v5.70h-5.55zM772.12 2168.16h22.18v5.70h-22.18zM611.30 2173.71h5.55v5.70h-5.55zM622.39 2173.71h5.55v5.70h-5.55zM639.03 2173.71h16.64v5.70h-16.64zM661.21 2173.71h11.09v5.70h-11.09zM700.03 2173.71h5.55v5.70h-5.55zM733.30 2173.71h5.55v5.70h-5.55zM761.03 2173.71h16.64v5.70h-16.64zM783.21 2173.71h5.55v5.70h-5.55zM611.30 2179.25h16.64v5.70h-16.64zM655.66 2179.25h5.55v5.70h-5.55zM672.30 2179.25h33.27v5.70h-33.27zM716.66 2179.25h11.09v5.70h-11.09zM738.85 2179.25h16.64v5.70h-16.64zM761.03 2179.25h11.09v5.70h-11.09zM611.30 2184.80h5.55v5.70h-5.55zM633.48 2184.80h22.18v5.70h-22.18zM666.75 2184.80h16.64v5.70h-16.64zM694.48 2184.80h27.73v5.70h-27.73zM727.75 2184.80h5.55v5.70h-5.55zM744.39 2184.80h5.55v5.70h-5.55zM766.57 2184.80h16.64v5.70h-16.64zM611.30 2190.35h5.55v5.70h-5.55zM622.39 2190.35h11.09v5.70h-11.09zM639.03 2190.35h5.55v5.70h-5.55zM650.12 2190.35h11.09v5.70h-11.09zM666.75 2190.35h16.64v5.70h-16.64zM688.94 2190.35h5.55v5.70h-5.55zM700.03 2190.35h5.55v5.70h-5.55zM716.66 2190.35h11.09v5.70h-11.09zM744.39 2190.35h5.55v5.70h-5.55zM761.03 2190.35h5.55v5.70h-5.55zM772.12 2190.35h11.09v5.70h-11.09zM788.75 2190.35h5.55v5.70h-5.55zM611.30 2195.89h27.73v5.70h-27.73zM644.57 2195.89h5.55v5.70h-5.55zM655.66 2195.89h5.55v5.70h-5.55zM666.75 2195.89h22.18v5.70h-22.18zM705.57 2195.89h5.55v5.70h-5.55zM722.21 2195.89h5.55v5.70h-5.55zM733.30 2195.89h44.36v5.70h-44.36zM783.21 2195.89h11.09v5.70h-11.09zM655.66 2201.44h5.55v5.70h-5.55zM672.30 2201.44h16.64v5.70h-16.64zM705.57 2201.44h5.55v5.70h-5.55zM733.30 2201.44h16.64v5.70h-16.64zM766.57 2201.44h5.55v5.70h-5.55zM777.66 2201.44h5.55v5.70h-5.55zM788.75 2201.44h5.55v5.70h-5.55zM611.30 2206.98h38.82v5.70h-38.82zM661.21 2206.98h11.09v5.70h-11.09zM683.39 2206.98h5.55v5.70h-5.55zM694.48 2206.98h5.55v5.70h-5.55zM705.57 2206.98h11.09v5.70h-11.09zM727.75 2206.98h5.55v5.70h-5.55zM738.85 2206.98h11.09v5.70h-11.09zM755.48 2206.98h5.55v5.70h-5.55zM766.57 2206.98h5.55v5.70h-5.55zM783.21 2206.98h5.55v5.70h-5.55zM611.30 2212.53h5.55v5.70h-5.55zM644.57 2212.53h5.55v5.70h-5.55zM655.66 2212.53h11.09v5.70h-11.09zM677.85 2212.53h5.55v5.70h-5.55zM694.48 2212.53h16.64v5.70h-16.64zM716.66 2212.53h5.55v5.70h-5.55zM744.39 2212.53h5.55v5.70h-5.55zM766.57 2212.53h22.18v5.70h-22.18zM611.30 2218.07h5.55v5.70h-5.55zM622.39 2218.07h16.64v5.70h-16.64zM644.57 2218.07h5.55v5.70h-5.55zM666.75 2218.07h33.27v5.70h-33.27zM705.57 2218.07h5.55v5.70h-5.55zM722.21 2218.07h11.09v5.70h-11.09zM744.39 2218.07h27.73v5.70h-27.73zM783.21 2218.07h11.09v5.70h-11.09zM611.30 2223.62h5.55v5.70h-5.55zM622.39 2223.62h16.64v5.70h-16.64zM644.57 2223.62h5.55v5.70h-5.55zM661.21 2223.62h5.55v5.70h-5.55zM672.30 2223.62h11.09v5.70h-11.09zM688.94 2223.62h5.55v5.70h-5.55zM700.03 2223.62h11.09v5.70h-11.09zM716.66 2223.62h5.55v5.70h-5.55zM733.30 2223.62h22.18v5.70h-22.18zM761.03 2223.62h16.64v5.70h-16.64zM788.75 2223.62h5.55v5.70h-5.55zM611.30 2229.16h5.55v5.70h-5.55zM622.39 2229.16h16.64v5.70h-16.64zM644.57 2229.16h5.55v5.70h-5.55zM661.21 2229.16h5.55v5.70h-5.55zM677.85 2229.16h5.55v5.70h-5.55zM694.48 2229.16h5.55v5.70h-5.55zM705.57 2229.16h5.55v5.70h-5.55zM716.66 2229.16h16.64v5.70h-16.64zM744.39 2229.16h5.55v5.70h-5.55zM766.57 2229.16h5.55v5.70h-5.55zM777.66 2229.16h16.64v5.70h-16.64zM611.30 2234.71h5.55v5.70h-5.55zM644.57 2234.71h5.55v5.70h-5.55zM661.21 2234.71h5.55v5.70h-5.55zM705.57 2234.71h5.55v5.70h-5.55zM716.66 2234.71h11.09v5.70h-11.09zM733.30 2234.71h11.09v5.70h-11.09zM749.94 2234.71h5.55v5.70h-5.55zM777.66 2234.71h5.55v5.70h-5.55zM611.30 2240.25h38.82v5.70h-38.82zM661.21 2240.25h16.64v5.70h-16.64zM683.39 2240.25h5.55v5.70h-5.55zM694.48 2240.25h16.64v5.70h-16.64zM716.66 2240.25h5.55v5.70h-5.55zM727.75 2240.25h5.55v5.70h-5.55zM738.85 2240.25h11.09v5.70h-11.09zM772.12 2240.25h5.55v5.70h-5.55zM783.21 2240.25h5.55v5.70h-5.55z" fill="#2b2a29"/>
<text x="705.8" y="2038.8" font-family="Liberation Sans" font-size="34.5" font-weight="bold" fill="#2b2a29" textLength="210" lengthAdjust="spacingAndGlyphs" text-anchor="middle" >590050-3000</text>
<rect x="869.4" y="2050.5" width="207" height="207" fill="#fdfdfd"/>
<path d="M881.40 2062.50h38.82v5.70h-38.82zM942.40 2062.50h5.55v5.70h-5.55zM959.04 2062.50h5.55v5.70h-5.55zM975.67 2062.50h11.09v5.70h-11.09zM997.85 2062.50h11.09v5.70h-11.09zM1014.49 2062.50h5.55v5.70h-5.55zM1025.58 2062.50h38.82v5.70h-38.82zM881.40 2068.05h5.55v5.70h-5.55zM914.67 2068.05h5.55v5.70h-5.55zM925.76 2068.05h5.55v5.70h-5.55zM936.85 2068.05h5.55v5.70h-5.55zM964.58 2068.05h16.64v5.70h-16.64zM986.76 2068.05h5.55v5.70h-5.55zM1003.40 2068.05h5.55v5.70h-5.55zM1025.58 2068.05h5.55v5.70h-5.55zM1058.85 2068.05h5.55v5.70h-5.55zM881.40 2073.59h5.55v5.70h-5.55zM892.49 2073.59h16.64v5.70h-16.64zM914.67 2073.59h5.55v5.70h-5.55zM925.76 2073.59h5.55v5.70h-5.55zM942.40 2073.59h11.09v5.70h-11.09zM975.67 2073.59h33.27v5.70h-33.27zM1014.49 2073.59h5.55v5.70h-5.55zM1025.58 2073.59h5.55v5.70h-5.55zM1036.67 2073.59h16.64v5.70h-16.64zM1058.85 2073.59h5.55v5.70h-5.55zM881.40 2079.14h5.55v5.70h-5.55zM892.49 2079.14h16.64v5.70h-16.64zM914.67 2079.14h5.55v5.70h-5.55zM925.76 2079.14h16.64v5.70h-16.64zM947.95 2079.14h16.64v5.70h-16.64zM975.67 2079.14h16.64v5.70h-16.64zM997.85 2079.14h16.64v5.70h-16.64zM1025.58 2079.14h5.55v5.70h-5.55zM1036.67 2079.14h16.64v5.70h-16.64zM1058.85 2079.14h5.55v5.70h-5.55zM881.40 2084.68h5.55v5.70h-5.55zM892.49 2084.68h16.64v5.70h-16.64zM914.67 2084.68h5.55v5.70h-5.55zM925.76 2084.68h22.18v5.70h-22.18zM953.49 2084.68h5.55v5.70h-5.55zM970.13 2084.68h5.55v5.70h-5.55zM992.31 2084.68h27.73v5.70h-27.73zM1025.58 2084.68h5.55v5.70h-5.55zM1036.67 2084.68h16.64v5.70h-16.64zM1058.85 2084.68h5.55v5.70h-5.55zM881.40 2090.23h5.55v5.70h-5.55zM914.67 2090.23h5.55v5.70h-5.55zM925.76 2090.23h5.55v5.70h-5.55zM942.40 2090.23h5.55v5.70h-5.55zM953.49 2090.23h11.09v5.70h-11.09zM986.76 2090.23h11.09v5.70h-11.09zM1025.58 2090.23h5.55v5.70h-5.55zM1058.85 2090.23h5.55v5.70h-5.55zM881.40 2095.77h38.82v5.70h-38.82zM925.76 2095.77h5.55v5.70h-5.55zM936.85 2095.77h5.55v5.70h-5.55zM947.95 2095.77h5.55v5.70h-5.55zM959.04 2095.77h5.55v5.70h-5.55zM970.13 2095.77h5.55v5.70h-5.55zM981.22 2095.77h5.55v5.70h-5.55zM992.31 2095.77h5.55v5.70h-5.55zM1003.40 2095.77h5.55v5.70h-5.55zM1014.49 2095.77h5.55v5.70h-5.55zM1025.58 2095.77h38.82v5.70h-38.82zM931.31 2101.32h11.09v5.70h-11.09zM953.49 2101.32h5.55v5.70h-5.55zM970.13 2101.32h5.55v5.70h-5.55zM992.31 2101.32h5.55v5.70h-5.55zM892.49 2106.86h5.55v5.70h-5.55zM909.13 2106.86h22.18v5.70h-22.18zM936.85 2106.86h5.55v5.70h-5.55zM947.95 2106.86h22.18v5.70h-22.18zM1003.40 2106.86h11.09v5.70h-11.09zM1020.04 2106.86h5.55v5.70h-5.55zM1031.13 2106.86h27.73v5.70h-27.73zM881.40 2112.41h5.55v5.70h-5.55zM898.04 2112.41h11.09v5.70h-11.09zM920.22 2112.41h16.64v5.70h-16.64zM942.40 2112.41h5.55v5.70h-5.55zM959.04 2112.41h11.09v5.70h-11.09zM986.76 2112.41h5.55v5.70h-5.55zM997.85 2112.41h16.64v5.70h-16.64zM1020.04 2112.41h16.64v5.70h-16.64zM1042.22 2112.41h11.09v5.70h-11.09zM1058.85 2112.41h5.55v5.70h-5.55zM892.49 2117.95h16.64v5.70h-16.64zM914.67 2117.95h5.55v5.70h-5.55zM931.31 2117.95h16.64v5.70h-16.64zM959.04 2117.95h5.55v5.70h-5.55zM970.13 2117.95h16.64v5.70h-16.64zM1008.95 2117.95h5.55v5.70h-5.55zM1020.04 2117.95h5.55v5.70h-5.55zM1031.13 2117.95h16.64v5.70h-16.64zM1058.85 2117.95h5.55v5.70h-5.55zM892.49 2123.50h5.55v5.70h-5.55zM903.58 2123.50h5.55v5.70h-5.55zM936.85 2123.50h5.55v5.70h-5.55zM953.49 2123.50h27.73v5.70h-27.73zM986.76 2123.50h5.55v5.70h-5.55zM997.85 2123.50h5.55v5.70h-5.55zM1031.13 2123.50h5.55v5.70h-5.55zM1042.22 2123.50h5.55v5.70h-5.55zM881.40 2129.05h49.91v5.70h-49.91zM936.85 2129.05h22.18v5.70h-22.18zM964.58 2129.05h11.09v5.70h-11.09zM986.76 2129.05h5.55v5.70h-5.55zM997.85 2129.05h5.55v5.70h-5.55zM1025.58 2129.05h5.55v5.70h-5.55zM881.40 2134.59h27.73v5.70h-27.73zM925.76 2134.59h11.09v5.70h-11.09zM959.04 2134.59h22.18v5.70h-22.18zM986.76 2134.59h5.55v5.70h-5.55zM997.85 2134.59h5.55v5.70h-5.55zM1008.95 2134.59h22.18v5.70h-22.18zM1058.85 2134.59h5.55v5.70h-5.55zM881.40 2140.14h11.09v5.70h-11.09zM898.04 2140.14h5.55v5.70h-5.55zM914.67 2140.14h5.55v5.70h-5.55zM925.76 2140.14h5.55v5.70h-5.55zM936.85 2140.14h5.55v5.70h-5.55zM947.95 2140.14h11.09v5.70h-11.09zM975.67 2140.14h5.55v5.70h-5.55zM1008.95 2140.14h5.55v5.70h-5.55zM1031.13 2140.14h22.18v5.70h-22.18zM1058.85 2140.14h5.55v5.70h-5.55zM881.40 2145.68h5.55v5.70h-5.55zM909.13 2145.68h5.55v5.70h-5.55zM925.76 2145.68h16.64v5.70h-16.64zM947.95 2145.68h16.64v5.70h-16.64zM970.13 2145.68h5.55v5.70h-5.55zM992.31 2145.68h5.55v5.70h-5.55zM1003.40 2145.68h11.09v5.70h-11.09zM1020.04 2145.68h16.64v5.70h-16.64zM881.40 2151.23h49.91v5.70h-49.91zM936.85 2151.23h11.09v5.70h-11.09zM953.49 2151.23h5.55v5.70h-5.55zM964.58 2151.23h16.64v5.70h-16.64zM986.76 2151.23h5.55v5.70h-5.55zM1003.40 2151.23h11.09v5.70h-11.09zM1020.04 2151.23h16.64v5.70h-16.64zM1042.22 2151.23h5.55v5.70h-5.55zM1053.31 2151.23h11.09v5.70h-11.09zM881.40 2156.77h11.09v5.70h-11.09zM909.13 2156.77h5.55v5.70h-5.55zM925.76 2156.77h5.55v5.70h-5.55zM936.85 2156.77h16.64v5.70h-16.64zM975.67 2156.77h11.09v5.70h-11.09zM1008.95 2156.77h5.55v5.70h-5.55zM1020.04 2156.77h11.09v5.70h-11.09zM1047.76 2156.77h16.64v5.70h-16.64zM886.95 2162.32h11.09v5.70h-11.09zM903.58 2162.32h16.64v5.70h-16.64zM942.40 2162.32h16.64v5.70h-16.64zM986.76 2162.32h27.73v5.70h-27.73zM1020.04 2162.32h11.09v5.70h-11.09zM1036.67 2162.32h27.73v5.70h-27.73zM881.40 2167.86h11.09v5.70h-11.09zM909.13 2167.86h5.55v5.70h-5.55zM925.76 2167.86h5.55v5.70h-5.55zM936.85 2167.86h5.55v5.70h-5.55zM953.49 2167.86h16.64v5.70h-16.64zM975.67 2167.86h16.64v5.70h-16.64zM1003.40 2167.86h11.09v5.70h-11.09zM1031.13 2167.86h5.55v5.70h-5.55zM1042.22 2167.86h5.55v5.70h-5.55zM1053.31 2167.86h5.55v5.70h-5.55zM909.13 2173.41h11.09v5.70h-11.09zM925.76 2173.41h11.09v5.70h-11.09zM942.40 2173.41h5.55v5.70h-5.55zM953.49 2173.41h11.09v5.70h-11.09zM970.13 2173.41h11.09v5.70h-11.09zM986.76 2173.41h5.55v5.70h-5.55zM1008.95 2173.41h5.55v5.70h-5.55zM1020.04 2173.41h16.64v5.70h-16.64zM1058.85 2173.41h5.55v5.70h-5.55zM903.58 2178.95h11.09v5.70h-11.09zM936.85 2178.95h5.55v5.70h-5.55zM953.49 2178.95h5.55v5.70h-5.55zM981.22 2178.95h16.64v5.70h-16.64zM1003.40 2178.95h11.09v5.70h-11.09zM1020.04 2178.95h16.64v5.70h-16.64zM1047.76 2178.95h5.55v5.70h-5.55zM1058.85 2178.95h5.55v5.70h-5.55zM881.40 2184.50h16.64v5.70h-16.64zM914.67 2184.50h5.55v5.70h-5.55zM925.76 2184.50h5.55v5.70h-5.55zM942.40 2184.50h5.55v5.70h-5.55zM953.49 2184.50h22.18v5.70h-22.18zM981.22 2184.50h5.55v5.70h-5.55zM992.31 2184.50h38.82v5.70h-38.82zM1047.76 2184.50h16.64v5.70h-16.64zM892.49 2190.05h11.09v5.70h-11.09zM909.13 2190.05h5.55v5.70h-5.55zM920.22 2190.05h11.09v5.70h-11.09zM936.85 2190.05h11.09v5.70h-11.09zM959.04 2190.05h5.55v5.70h-5.55zM981.22 2190.05h5.55v5.70h-5.55zM1031.13 2190.05h5.55v5.70h-5.55zM1042.22 2190.05h5.55v5.70h-5.55zM1058.85 2190.05h5.55v5.70h-5.55zM881.40 2195.59h27.73v5.70h-27.73zM914.67 2195.59h5.55v5.70h-5.55zM925.76 2195.59h5.55v5.70h-5.55zM936.85 2195.59h22.18v5.70h-22.18zM964.58 2195.59h5.55v5.70h-5.55zM975.67 2195.59h5.55v5.70h-5.55zM992.31 2195.59h5.55v5.70h-5.55zM1003.40 2195.59h44.36v5.70h-44.36zM1053.31 2195.59h11.09v5.70h-11.09zM925.76 2201.14h11.09v5.70h-11.09zM942.40 2201.14h5.55v5.70h-5.55zM981.22 2201.14h5.55v5.70h-5.55zM1003.40 2201.14h16.64v5.70h-16.64zM1036.67 2201.14h5.55v5.70h-5.55zM1058.85 2201.14h5.55v5.70h-5.55zM881.40 2206.68h38.82v5.70h-38.82zM925.76 2206.68h5.55v5.70h-5.55zM942.40 2206.68h5.55v5.70h-5.55zM959.04 2206.68h49.91v5.70h-49.91zM1014.49 2206.68h5.55v5.70h-5.55zM1025.58 2206.68h5.55v5.70h-5.55zM1036.67 2206.68h11.09v5.70h-11.09zM1058.85 2206.68h5.55v5.70h-5.55zM881.40 2212.23h5.55v5.70h-5.55zM914.67 2212.23h5.55v5.70h-5.55zM925.76 2212.23h16.64v5.70h-16.64zM953.49 2212.23h16.64v5.70h-16.64zM975.67 2212.23h22.18v5.70h-22.18zM1003.40 2212.23h5.55v5.70h-5.55zM1014.49 2212.23h5.55v5.70h-5.55zM1036.67 2212.23h11.09v5.70h-11.09zM1053.31 2212.23h11.09v5.70h-11.09zM881.40 2217.77h5.55v5.70h-5.55zM892.49 2217.77h16.64v5.70h-16.64zM914.67 2217.77h5.55v5.70h-5.55zM931.31 2217.77h5.55v5.70h-5.55zM947.95 2217.77h11.09v5.70h-11.09zM964.58 2217.77h27.73v5.70h-27.73zM997.85 2217.77h44.36v5.70h-44.36zM881.40 2223.32h5.55v5.70h-5.55zM892.49 2223.32h16.64v5.70h-16.64zM914.67 2223.32h5.55v5.70h-5.55zM931.31 2223.32h16.64v5.70h-16.64zM959.04 2223.32h5.55v5.70h-5.55zM970.13 2223.32h22.18v5.70h-22.18zM1003.40 2223.32h11.09v5.70h-11.09zM1020.04 2223.32h5.55v5.70h-5.55zM1031.13 2223.32h22.18v5.70h-22.18zM1058.85 2223.32h5.55v5.70h-5.55zM881.40 2228.86h5.55v5.70h-5.55zM892.49 2228.86h16.64v5.70h-16.64zM914.67 2228.86h5.55v5.70h-5.55zM925.76 2228.86h11.09v5.70h-11.09zM947.95 2228.86h5.55v5.70h-5.55zM964.58 2228.86h5.55v5.70h-5.55zM975.67 2228.86h5.55v5.70h-5.55zM986.76 2228.86h16.64v5.70h-16.64zM1014.49 2228.86h5.55v5.70h-5.55zM1036.67 2228.86h5.55v5.70h-5.55zM1047.76 2228.86h16.64v5.70h-16.64zM881.40 2234.41h5.55v5.70h-5.55zM914.67 2234.41h5.55v5.70h-5.55zM931.31 2234.41h5.55v5.70h-5.55zM947.95 2234.41h5.55v5.70h-5.55zM975.67 2234.41h22.18v5.70h-22.18zM1003.40 2234.41h22.18v5.70h-22.18zM881.40 2239.95h38.82v5.70h-38.82zM931.31 2239.95h5.55v5.70h-5.55zM959.04 2239.95h11.09v5.70h-11.09zM992.31 2239.95h16.64v5.70h-16.64zM1014.49 2239.95h16.64v5.70h-16.64zM1036.67 2239.95h5.55v5.70h-5.55zM1058.85 2239.95h5.55v5.70h-5.55z" fill="#2b2a29"/>
<text x="975.9" y="2038.8" font-family="Liberation Sans" font-size="34.5" font-weight="bold" fill="#2b2a29" textLength="210" lengthAdjust="spacingAndGlyphs" text-anchor="middle" >590050-4000</text>
<rect x="1144.7" y="2050.5" width="207" height="207" fill="#fdfdfd"/>
<path d="M1156.70 2062.50h38.82v5.70h-38.82zM1217.70 2062.50h5.55v5.70h-5.55zM1234.34 2062.50h5.55v5.70h-5.55zM1250.97 2062.50h11.09v5.70h-11.09zM1273.15 2062.50h11.09v5.70h-11.09zM1289.79 2062.50h5.55v5.70h-5.55zM1300.88 2062.50h38.82v5.70h-38.82zM1156.70 2068.05h5.55v5.70h-5.55zM1189.97 2068.05h5.55v5.70h-5.55zM1201.06 2068.05h5.55v5.70h-5.55zM1212.15 2068.05h5.55v5.70h-5.55zM1239.88 2068.05h16.64v5.70h-16.64zM1262.06 2068.05h5.55v5.70h-5.55zM1278.70 2068.05h5.55v5.70h-5.55zM1300.88 2068.05h5.55v5.70h-5.55zM1334.15 2068.05h5.55v5.70h-5.55zM1156.70 2073.59h5.55v5.70h-5.55zM1167.79 2073.59h16.64v5.70h-16.64zM1189.97 2073.59h5.55v5.70h-5.55zM1201.06 2073.59h5.55v5.70h-5.55zM1217.70 2073.59h11.09v5.70h-11.09zM1250.97 2073.59h33.27v5.70h-33.27zM1289.79 2073.59h5.55v5.70h-5.55zM1300.88 2073.59h5.55v5.70h-5.55zM1311.97 2073.59h16.64v5.70h-16.64zM1334.15 2073.59h5.55v5.70h-5.55zM1156.70 2079.14h5.55v5.70h-5.55zM1167.79 2079.14h16.64v5.70h-16.64zM1189.97 2079.14h5.55v5.70h-5.55zM1201.06 2079.14h16.64v5.70h-16.64zM1223.25 2079.14h16.64v5.70h-16.64zM1245.43 2079.14h22.18v5.70h-22.18zM1273.15 2079.14h16.64v5.70h-16.64zM1300.88 2079.14h5.55v5.70h-5.55zM1311.97 2079.14h16.64v5.70h-16.64zM1334.15 2079.14h5.55v5.70h-5.55zM1156.70 2084.68h5.55v5.70h-5.55zM1167.79 2084.68h16.64v5.70h-16.64zM1189.97 2084.68h5.55v5.70h-5.55zM1201.06 2084.68h16.64v5.70h-16.64zM1223.25 2084.68h11.09v5.70h-11.09zM1245.43 2084.68h5.55v5.70h-5.55zM1262.06 2084.68h5.55v5.70h-5.55zM1273.15 2084.68h22.18v5.70h-22.18zM1300.88 2084.68h5.55v5.70h-5.55zM1311.97 2084.68h16.64v5.70h-16.64zM1334.15 2084.68h5.55v5.70h-5.55zM1156.70 2090.23h5.55v5.70h-5.55zM1189.97 2090.23h5.55v5.70h-5.55zM1201.06 2090.23h5.55v5.70h-5.55zM1223.25 2090.23h16.64v5.70h-16.64zM1262.06 2090.23h5.55v5.70h-5.55zM1300.88 2090.23h5.55v5.70h-5.55zM1334.15 2090.23h5.55v5.70h-5.55zM1156.70 2095.77h38.82v5.70h-38.82zM1201.06 2095.77h5.55v5.70h-5.55zM1212.15 2095.77h5.55v5.70h-5.55zM1223.25 2095.77h5.55v5.70h-5.55zM1234.34 2095.77h5.55v5.70h-5.55zM1245.43 2095.77h5.55v5.70h-5.55zM1256.52 2095.77h5.55v5.70h-5.55zM1267.61 2095.77h5.55v5.70h-5.55zM1278.70 2095.77h5.55v5.70h-5.55zM1289.79 2095.77h5.55v5.70h-5.55zM1300.88 2095.77h38.82v5.70h-38.82zM1206.61 2101.32h11.09v5.70h-11.09zM1228.79 2101.32h5.55v5.70h-5.55zM1262.06 2101.32h11.09v5.70h-11.09zM1167.79 2106.86h5.55v5.70h-5.55zM1184.43 2106.86h22.18v5.70h-22.18zM1212.15 2106.86h33.27v5.70h-33.27zM1278.70 2106.86h11.09v5.70h-11.09zM1295.34 2106.86h5.55v5.70h-5.55zM1306.43 2106.86h27.73v5.70h-27.73zM1156.70 2112.41h5.55v5.70h-5.55zM1173.34 2112.41h11.09v5.70h-11.09zM1195.52 2112.41h16.64v5.70h-16.64zM1217.70 2112.41h5.55v5.70h-5.55zM1228.79 2112.41h16.64v5.70h-16.64zM1250.97 2112.41h5.55v5.70h-5.55zM1262.06 2112.41h5.55v5.70h-5.55zM1273.15 2112.41h16.64v5.70h-16.64zM1295.34 2112.41h16.64v5.70h-16.64zM1317.52 2112.41h11.09v5.70h-11.09zM1334.15 2112.41h5.55v5.70h-5.55zM1167.79 2117.95h16.64v5.70h-16.64zM1189.97 2117.95h5.55v5.70h-5.55zM1212.15 2117.95h11.09v5.70h-11.09zM1245.43 2117.95h16.64v5.70h-16.64zM1284.25 2117.95h5.55v5.70h-5.55zM1295.34 2117.95h5.55v5.70h-5.55zM1306.43 2117.95h16.64v5.70h-16.64zM1334.15 2117.95h5.55v5.70h-5.55zM1167.79 2123.50h5.55v5.70h-5.55zM1178.88 2123.50h5.55v5.70h-5.55zM1206.61 2123.50h11.09v5.70h-11.09zM1239.88 2123.50h11.09v5.70h-11.09zM1256.52 2123.50h11.09v5.70h-11.09zM1273.15 2123.50h5.55v5.70h-5.55zM1306.43 2123.50h5.55v5.70h-5.55zM1317.52 2123.50h5.55v5.70h-5.55zM1156.70 2129.05h16.64v5.70h-16.64zM1178.88 2129.05h33.27v5.70h-33.27zM1217.70 2129.05h11.09v5.70h-11.09zM1234.34 2129.05h33.27v5.70h-33.27zM1273.15 2129.05h5.55v5.70h-5.55zM1300.88 2129.05h5.55v5.70h-5.55zM1156.70 2134.59h11.09v5.70h-11.09zM1178.88 2134.59h5.55v5.70h-5.55zM1195.52 2134.59h22.18v5.70h-22.18zM1239.88 2134.59h16.64v5.70h-16.64zM1262.06 2134.59h5.55v5.70h-5.55zM1273.15 2134.59h5.55v5.70h-5.55zM1284.25 2134.59h22.18v5.70h-22.18zM1317.52 2134.59h5.55v5.70h-5.55zM1334.15 2134.59h5.55v5.70h-5.55zM1156.70 2140.14h16.64v5.70h-16.64zM1189.97 2140.14h11.09v5.70h-11.09zM1212.15 2140.14h5.55v5.70h-5.55zM1223.25 2140.14h11.09v5.70h-11.09zM1250.97 2140.14h5.55v5.70h-5.55zM1284.25 2140.14h5.55v5.70h-5.55zM1317.52 2140.14h5.55v5.70h-5.55zM1334.15 2140.14h5.55v5.70h-5.55zM1156.70 2145.68h5.55v5.70h-5.55zM1173.34 2145.68h5.55v5.70h-5.55zM1184.43 2145.68h5.55v5.70h-5.55zM1201.06 2145.68h16.64v5.70h-16.64zM1223.25 2145.68h16.64v5.70h-16.64zM1245.43 2145.68h5.55v5.70h-5.55zM1267.61 2145.68h5.55v5.70h-5.55zM1278.70 2145.68h11.09v5.70h-11.09zM1295.34 2145.68h11.09v5.70h-11.09zM1156.70 2151.23h49.91v5.70h-49.91zM1212.15 2151.23h11.09v5.70h-11.09zM1228.79 2151.23h5.55v5.70h-5.55zM1239.88 2151.23h16.64v5.70h-16.64zM1262.06 2151.23h5.55v5.70h-5.55zM1278.70 2151.23h11.09v5.70h-11.09zM1295.34 2151.23h16.64v5.70h-16.64zM1317.52 2151.23h5.55v5.70h-5.55zM1328.61 2151.23h11.09v5.70h-11.09zM1156.70 2156.77h11.09v5.70h-11.09zM1178.88 2156.77h11.09v5.70h-11.09zM1201.06 2156.77h5.55v5.70h-5.55zM1212.15 2156.77h16.64v5.70h-16.64zM1250.97 2156.77h11.09v5.70h-11.09zM1284.25 2156.77h5.55v5.70h-5.55zM1295.34 2156.77h11.09v5.70h-11.09zM1323.06 2156.77h16.64v5.70h-16.64zM1162.25 2162.32h11.09v5.70h-11.09zM1178.88 2162.32h5.55v5.70h-5.55zM1189.97 2162.32h5.55v5.70h-5.55zM1217.70 2162.32h16.64v5.70h-16.64zM1262.06 2162.32h27.73v5.70h-27.73zM1295.34 2162.32h11.09v5.70h-11.09zM1311.97 2162.32h27.73v5.70h-27.73zM1156.70 2167.86h5.55v5.70h-5.55zM1184.43 2167.86h5.55v5.70h-5.55zM1201.06 2167.86h5.55v5.70h-5.55zM1212.15 2167.86h5.55v5.70h-5.55zM1228.79 2167.86h16.64v5.70h-16.64zM1250.97 2167.86h16.64v5.70h-16.64zM1278.70 2167.86h11.09v5.70h-11.09zM1306.43 2167.86h5.55v5.70h-5.55zM1317.52 2167.86h5.55v5.70h-5.55zM1328.61 2167.86h5.55v5.70h-5.55zM1156.70 2173.41h5.55v5.70h-5.55zM1178.88 2173.41h5.55v5.70h-5.55zM1189.97 2173.41h5.55v5.70h-5.55zM1201.06 2173.41h11.09v5.70h-11.09zM1217.70 2173.41h5.55v5.70h-5.55zM1228.79 2173.41h11.09v5.70h-11.09zM1250.97 2173.41h5.55v5.70h-5.55zM1262.06 2173.41h11.09v5.70h-11.09zM1284.25 2173.41h5.55v5.70h-5.55zM1295.34 2173.41h16.64v5.70h-16.64zM1334.15 2173.41h5.55v5.70h-5.55zM1162.25 2178.95h5.55v5.70h-5.55zM1212.15 2178.95h22.18v5.70h-22.18zM1239.88 2178.95h11.09v5.70h-11.09zM1256.52 2178.95h5.55v5.70h-5.55zM1278.70 2178.95h11.09v5.70h-11.09zM1295.34 2178.95h11.09v5.70h-11.09zM1323.06 2178.95h5.55v5.70h-5.55zM1334.15 2178.95h5.55v5.70h-5.55zM1156.70 2184.50h16.64v5.70h-16.64zM1189.97 2184.50h5.55v5.70h-5.55zM1201.06 2184.50h5.55v5.70h-5.55zM1223.25 2184.50h16.64v5.70h-16.64zM1245.43 2184.50h5.55v5.70h-5.55zM1256.52 2184.50h11.09v5.70h-11.09zM1273.15 2184.50h33.27v5.70h-33.27zM1323.06 2184.50h16.64v5.70h-16.64zM1167.79 2190.05h11.09v5.70h-11.09zM1184.43 2190.05h5.55v5.70h-5.55zM1195.52 2190.05h11.09v5.70h-11.09zM1212.15 2190.05h11.09v5.70h-11.09zM1234.34 2190.05h5.55v5.70h-5.55zM1256.52 2190.05h11.09v5.70h-11.09zM1306.43 2190.05h5.55v5.70h-5.55zM1317.52 2190.05h5.55v5.70h-5.55zM1334.15 2190.05h5.55v5.70h-5.55zM1156.70 2195.59h27.73v5.70h-27.73zM1189.97 2195.59h5.55v5.70h-5.55zM1201.06 2195.59h5.55v5.70h-5.55zM1212.15 2195.59h5.55v5.70h-5.55zM1223.25 2195.59h11.09v5.70h-11.09zM1239.88 2195.59h5.55v5.70h-5.55zM1250.97 2195.59h5.55v5.70h-5.55zM1267.61 2195.59h5.55v5.70h-5.55zM1278.70 2195.59h44.36v5.70h-44.36zM1328.61 2195.59h11.09v5.70h-11.09zM1201.06 2201.14h11.09v5.70h-11.09zM1217.70 2201.14h5.55v5.70h-5.55zM1256.52 2201.14h5.55v5.70h-5.55zM1278.70 2201.14h16.64v5.70h-16.64zM1311.97 2201.14h5.55v5.70h-5.55zM1334.15 2201.14h5.55v5.70h-5.55zM1156.70 2206.68h38.82v5.70h-38.82zM1201.06 2206.68h22.18v5.70h-22.18zM1228.79 2206.68h5.55v5.70h-5.55zM1239.88 2206.68h11.09v5.70h-11.09zM1256.52 2206.68h27.73v5.70h-27.73zM1289.79 2206.68h5.55v5.70h-5.55zM1300.88 2206.68h5.55v5.70h-5.55zM1311.97 2206.68h11.09v5.70h-11.09zM1334.15 2206.68h5.55v5.70h-5.55zM1156.70 2212.23h5.55v5.70h-5.55zM1189.97 2212.23h5.55v5.70h-5.55zM1201.06 2212.23h5.55v5.70h-5.55zM1212.15 2212.23h5.55v5.70h-5.55zM1228.79 2212.23h5.55v5.70h-5.55zM1239.88 2212.23h5.55v5.70h-5.55zM1250.97 2212.23h5.55v5.70h-5.55zM1262.06 2212.23h11.09v5.70h-11.09zM1278.70 2212.23h5.55v5.70h-5.55zM1289.79 2212.23h5.55v5.70h-5.55zM1311.97 2212.23h11.09v5.70h-11.09zM1328.61 2212.23h11.09v5.70h-11.09zM1156.70 2217.77h5.55v5.70h-5.55zM1167.79 2217.77h16.64v5.70h-16.64zM1189.97 2217.77h5.55v5.70h-5.55zM1223.25 2217.77h11.09v5.70h-11.09zM1239.88 2217.77h11.09v5.70h-11.09zM1256.52 2217.77h11.09v5.70h-11.09zM1273.15 2217.77h44.36v5.70h-44.36zM1156.70 2223.32h5.55v5.70h-5.55zM1167.79 2223.32h16.64v5.70h-16.64zM1189.97 2223.32h5.55v5.70h-5.55zM1206.61 2223.32h16.64v5.70h-16.64zM1234.34 2223.32h5.55v5.70h-5.55zM1245.43 2223.32h22.18v5.70h-22.18zM1278.70 2223.32h11.09v5.70h-11.09zM1295.34 2223.32h5.55v5.70h-5.55zM1306.43 2223.32h22.18v5.70h-22.18zM1334.15 2223.32h5.55v5.70h-5.55zM1156.70 2228.86h5.55v5.70h-5.55zM1167.79 2228.86h16.64v5.70h-16.64zM1189.97 2228.86h5.55v5.70h-5.55zM1201.06 2228.86h11.09v5.70h-11.09zM1223.25 2228.86h5.55v5.70h-5.55zM1239.88 2228.86h5.55v5.70h-5.55zM1250.97 2228.86h5.55v5.70h-5.55zM1262.06 2228.86h16.64v5.70h-16.64zM1289.79 2228.86h5.55v5.70h-5.55zM1311.97 2228.86h5.55v5.70h-5.55zM1323.06 2228.86h16.64v5.70h-16.64zM1156.70 2234.41h5.55v5.70h-5.55zM1189.97 2234.41h5.55v5.70h-5.55zM1206.61 2234.41h5.55v5.70h-5.55zM1223.25 2234.41h5.55v5.70h-5.55zM1250.97 2234.41h22.18v5.70h-22.18zM1278.70 2234.41h22.18v5.70h-22.18zM1156.70 2239.95h38.82v5.70h-38.82zM1206.61 2239.95h5.55v5.70h-5.55zM1234.34 2239.95h11.09v5.70h-11.09zM1267.61 2239.95h16.64v5.70h-16.64zM1289.79 2239.95h16.64v5.70h-16.64zM1311.97 2239.95h5.55v5.70h-5.55zM1334.15 2239.95h5.55v5.70h-5.55z" fill="#2b2a29"/>
<text x="1251.3" y="2038.8" font-family="Liberation Sans" font-size="34.5" font-weight="bold" fill="#2b2a29" textLength="210" lengthAdjust="spacingAndGlyphs" text-anchor="middle" >590056-3000</text>
<rect x="1415" y="2051" width="207" height="207" fill="#fdfdfd"/>
<path d="M1427.00 2063.00h38.82v5.70h-38.82zM1488.00 2063.00h5.55v5.70h-5.55zM1504.64 2063.00h5.55v5.70h-5.55zM1521.27 2063.00h11.09v5.70h-11.09zM1543.45 2063.00h11.09v5.70h-11.09zM1560.09 2063.00h5.55v5.70h-5.55zM1571.18 2063.00h38.82v5.70h-38.82zM1427.00 2068.55h5.55v5.70h-5.55zM1460.27 2068.55h5.55v5.70h-5.55zM1471.36 2068.55h5.55v5.70h-5.55zM1482.45 2068.55h5.55v5.70h-5.55zM1510.18 2068.55h16.64v5.70h-16.64zM1532.36 2068.55h5.55v5.70h-5.55zM1549.00 2068.55h5.55v5.70h-5.55zM1571.18 2068.55h5.55v5.70h-5.55zM1604.45 2068.55h5.55v5.70h-5.55zM1427.00 2074.09h5.55v5.70h-5.55zM1438.09 2074.09h16.64v5.70h-16.64zM1460.27 2074.09h5.55v5.70h-5.55zM1471.36 2074.09h5.55v5.70h-5.55zM1488.00 2074.09h11.09v5.70h-11.09zM1521.27 2074.09h33.27v5.70h-33.27zM1560.09 2074.09h5.55v5.70h-5.55zM1571.18 2074.09h5.55v5.70h-5.55zM1582.27 2074.09h16.64v5.70h-16.64zM1604.45 2074.09h5.55v5.70h-5.55zM1427.00 2079.64h5.55v5.70h-5.55zM1438.09 2079.64h16.64v5.70h-16.64zM1460.27 2079.64h5.55v5.70h-5.55zM1471.36 2079.64h16.64v5.70h-16.64zM1499.09 2079.64h11.09v5.70h-11.09zM1515.73 2079.64h22.18v5.70h-22.18zM1543.45 2079.64h16.64v5.70h-16.64zM1571.18 2079.64h5.55v5.70h-5.55zM1582.27 2079.64h16.64v5.70h-16.64zM1604.45 2079.64h5.55v5.70h-5.55zM1427.00 2085.18h5.55v5.70h-5.55zM1438.09 2085.18h16.64v5.70h-16.64zM1460.27 2085.18h5.55v5.70h-5.55zM1471.36 2085.18h16.64v5.70h-16.64zM1499.09 2085.18h5.55v5.70h-5.55zM1537.91 2085.18h27.73v5.70h-27.73zM1571.18 2085.18h5.55v5.70h-5.55zM1582.27 2085.18h16.64v5.70h-16.64zM1604.45 2085.18h5.55v5.70h-5.55zM1427.00 2090.73h5.55v5.70h-5.55zM1460.27 2090.73h5.55v5.70h-5.55zM1471.36 2090.73h5.55v5.70h-5.55zM1499.09 2090.73h11.09v5.70h-11.09zM1532.36 2090.73h5.55v5.70h-5.55zM1571.18 2090.73h5.55v5.70h-5.55zM1604.45 2090.73h5.55v5.70h-5.55zM1427.00 2096.27h38.82v5.70h-38.82zM1471.36 2096.27h5.55v5.70h-5.55zM1482.45 2096.27h5.55v5.70h-5.55zM1493.55 2096.27h5.55v5.70h-5.55zM1504.64 2096.27h5.55v5.70h-5.55zM1515.73 2096.27h5.55v5.70h-5.55zM1526.82 2096.27h5.55v5.70h-5.55zM1537.91 2096.27h5.55v5.70h-5.55zM1549.00 2096.27h5.55v5.70h-5.55zM1560.09 2096.27h5.55v5.70h-5.55zM1571.18 2096.27h38.82v5.70h-38.82zM1476.91 2101.82h16.64v5.70h-16.64zM1499.09 2101.82h5.55v5.70h-5.55zM1510.18 2101.82h5.55v5.70h-5.55zM1438.09 2107.36h5.55v5.70h-5.55zM1454.73 2107.36h22.18v5.70h-22.18zM1482.45 2107.36h5.55v5.70h-5.55zM1493.55 2107.36h22.18v5.70h-22.18zM1532.36 2107.36h5.55v5.70h-5.55zM1549.00 2107.36h11.09v5.70h-11.09zM1565.64 2107.36h5.55v5.70h-5.55zM1576.73 2107.36h27.73v5.70h-27.73zM1427.00 2112.91h5.55v5.70h-5.55zM1443.64 2112.91h11.09v5.70h-11.09zM1465.82 2112.91h16.64v5.70h-16.64zM1488.00 2112.91h5.55v5.70h-5.55zM1499.09 2112.91h16.64v5.70h-16.64zM1521.27 2112.91h5.55v5.70h-5.55zM1532.36 2112.91h5.55v5.70h-5.55zM1543.45 2112.91h16.64v5.70h-16.64zM1565.64 2112.91h16.64v5.70h-16.64zM1587.82 2112.91h11.09v5.70h-11.09zM1604.45 2112.91h5.55v5.70h-5.55zM1438.09 2118.45h16.64v5.70h-16.64zM1460.27 2118.45h5.55v5.70h-5.55zM1476.91 2118.45h5.55v5.70h-5.55zM1488.00 2118.45h5.55v5.70h-5.55zM1504.64 2118.45h5.55v5.70h-5.55zM1515.73 2118.45h16.64v5.70h-16.64zM1554.55 2118.45h5.55v5.70h-5.55zM1565.64 2118.45h5.55v5.70h-5.55zM1576.73 2118.45h16.64v5.70h-16.64zM1604.45 2118.45h5.55v5.70h-5.55zM1438.09 2124.00h5.55v5.70h-5.55zM1449.18 2124.00h5.55v5.70h-5.55zM1476.91 2124.00h11.09v5.70h-11.09zM1499.09 2124.00h5.55v5.70h-5.55zM1510.18 2124.00h16.64v5.70h-16.64zM1532.36 2124.00h5.55v5.70h-5.55zM1543.45 2124.00h5.55v5.70h-5.55zM1576.73 2124.00h5.55v5.70h-5.55zM1587.82 2124.00h5.55v5.70h-5.55zM1427.00 2129.55h16.64v5.70h-16.64zM1449.18 2129.55h22.18v5.70h-22.18zM1482.45 2129.55h38.82v5.70h-38.82zM1526.82 2129.55h11.09v5.70h-11.09zM1543.45 2129.55h5.55v5.70h-5.55zM1571.18 2129.55h5.55v5.70h-5.55zM1427.00 2135.09h11.09v5.70h-11.09zM1449.18 2135.09h5.55v5.70h-5.55zM1471.36 2135.09h11.09v5.70h-11.09zM1504.64 2135.09h33.27v5.70h-33.27zM1543.45 2135.09h5.55v5.70h-5.55zM1554.55 2135.09h22.18v5.70h-22.18zM1587.82 2135.09h5.55v5.70h-5.55zM1604.45 2135.09h5.55v5.70h-5.55zM1427.00 2140.64h22.18v5.70h-22.18zM1460.27 2140.64h16.64v5.70h-16.64zM1482.45 2140.64h5.55v5.70h-5.55zM1493.55 2140.64h11.09v5.70h-11.09zM1521.27 2140.64h5.55v5.70h-5.55zM1554.55 2140.64h5.55v5.70h-5.55zM1576.73 2140.64h16.64v5.70h-16.64zM1604.45 2140.64h5.55v5.70h-5.55zM1427.00 2146.18h5.55v5.70h-5.55zM1438.09 2146.18h5.55v5.70h-5.55zM1454.73 2146.18h5.55v5.70h-5.55zM1465.82 2146.18h5.55v5.70h-5.55zM1476.91 2146.18h11.09v5.70h-11.09zM1493.55 2146.18h16.64v5.70h-16.64zM1515.73 2146.18h5.55v5.70h-5.55zM1537.91 2146.18h5.55v5.70h-5.55zM1549.00 2146.18h11.09v5.70h-11.09zM1565.64 2146.18h16.64v5.70h-16.64zM1427.00 2151.73h11.09v5.70h-11.09zM1443.64 2151.73h33.27v5.70h-33.27zM1482.45 2151.73h11.09v5.70h-11.09zM1499.09 2151.73h5.55v5.70h-5.55zM1510.18 2151.73h16.64v5.70h-16.64zM1532.36 2151.73h5.55v5.70h-5.55zM1549.00 2151.73h11.09v5.70h-11.09zM1565.64 2151.73h16.64v5.70h-16.64zM1587.82 2151.73h5.55v5.70h-5.55zM1598.91 2151.73h11.09v5.70h-11.09zM1427.00 2157.27h11.09v5.70h-11.09zM1449.18 2157.27h11.09v5.70h-11.09zM1471.36 2157.27h5.55v5.70h-5.55zM1482.45 2157.27h16.64v5.70h-16.64zM1521.27 2157.27h11.09v5.70h-11.09zM1554.55 2157.27h5.55v5.70h-5.55zM1565.64 2157.27h11.09v5.70h-11.09zM1593.36 2157.27h16.64v5.70h-16.64zM1438.09 2162.82h5.55v5.70h-5.55zM1449.18 2162.82h16.64v5.70h-16.64zM1488.00 2162.82h16.64v5.70h-16.64zM1532.36 2162.82h27.73v5.70h-27.73zM1565.64 2162.82h11.09v5.70h-11.09zM1582.27 2162.82h27.73v5.70h-27.73zM1427.00 2168.36h5.55v5.70h-5.55zM1471.36 2168.36h5.55v5.70h-5.55zM1482.45 2168.36h5.55v5.70h-5.55zM1499.09 2168.36h16.64v5.70h-16.64zM1521.27 2168.36h16.64v5.70h-16.64zM1549.00 2168.36h11.09v5.70h-11.09zM1576.73 2168.36h5.55v5.70h-5.55zM1587.82 2168.36h5.55v5.70h-5.55zM1598.91 2168.36h5.55v5.70h-5.55zM1432.55 2173.91h5.55v5.70h-5.55zM1454.73 2173.91h11.09v5.70h-11.09zM1471.36 2173.91h11.09v5.70h-11.09zM1488.00 2173.91h5.55v5.70h-5.55zM1499.09 2173.91h11.09v5.70h-11.09zM1515.73 2173.91h11.09v5.70h-11.09zM1532.36 2173.91h5.55v5.70h-5.55zM1554.55 2173.91h5.55v5.70h-5.55zM1565.64 2173.91h16.64v5.70h-16.64zM1604.45 2173.91h5.55v5.70h-5.55zM1449.18 2179.45h11.09v5.70h-11.09zM1482.45 2179.45h5.55v5.70h-5.55zM1493.55 2179.45h11.09v5.70h-11.09zM1521.27 2179.45h11.09v5.70h-11.09zM1537.91 2179.45h5.55v5.70h-5.55zM1549.00 2179.45h11.09v5.70h-11.09zM1565.64 2179.45h11.09v5.70h-11.09zM1593.36 2179.45h5.55v5.70h-5.55zM1604.45 2179.45h5.55v5.70h-5.55zM1427.00 2185.00h16.64v5.70h-16.64zM1460.27 2185.00h5.55v5.70h-5.55zM1471.36 2185.00h5.55v5.70h-5.55zM1488.00 2185.00h5.55v5.70h-5.55zM1499.09 2185.00h11.09v5.70h-11.09zM1526.82 2185.00h11.09v5.70h-11.09zM1543.45 2185.00h33.27v5.70h-33.27zM1593.36 2185.00h16.64v5.70h-16.64zM1438.09 2190.55h11.09v5.70h-11.09zM1454.73 2190.55h5.55v5.70h-5.55zM1465.82 2190.55h11.09v5.70h-11.09zM1482.45 2190.55h11.09v5.70h-11.09zM1504.64 2190.55h5.55v5.70h-5.55zM1515.73 2190.55h5.55v5.70h-5.55zM1526.82 2190.55h5.55v5.70h-5.55zM1537.91 2190.55h5.55v5.70h-5.55zM1576.73 2190.55h5.55v5.70h-5.55zM1587.82 2190.55h5.55v5.70h-5.55zM1604.45 2190.55h5.55v5.70h-5.55zM1427.00 2196.09h27.73v5.70h-27.73zM1460.27 2196.09h5.55v5.70h-5.55zM1471.36 2196.09h5.55v5.70h-5.55zM1482.45 2196.09h5.55v5.70h-5.55zM1493.55 2196.09h11.09v5.70h-11.09zM1521.27 2196.09h5.55v5.70h-5.55zM1537.91 2196.09h5.55v5.70h-5.55zM1549.00 2196.09h44.36v5.70h-44.36zM1598.91 2196.09h11.09v5.70h-11.09zM1471.36 2201.64h5.55v5.70h-5.55zM1488.00 2201.64h5.55v5.70h-5.55zM1499.09 2201.64h5.55v5.70h-5.55zM1521.27 2201.64h11.09v5.70h-11.09zM1549.00 2201.64h16.64v5.70h-16.64zM1582.27 2201.64h5.55v5.70h-5.55zM1604.45 2201.64h5.55v5.70h-5.55zM1427.00 2207.18h38.82v5.70h-38.82zM1471.36 2207.18h5.55v5.70h-5.55zM1482.45 2207.18h11.09v5.70h-11.09zM1499.09 2207.18h5.55v5.70h-5.55zM1510.18 2207.18h44.36v5.70h-44.36zM1560.09 2207.18h5.55v5.70h-5.55zM1571.18 2207.18h5.55v5.70h-5.55zM1582.27 2207.18h11.09v5.70h-11.09zM1604.45 2207.18h5.55v5.70h-5.55zM1427.00 2212.73h5.55v5.70h-5.55zM1460.27 2212.73h5.55v5.70h-5.55zM1471.36 2212.73h5.55v5.70h-5.55zM1482.45 2212.73h5.55v5.70h-5.55zM1510.18 2212.73h5.55v5.70h-5.55zM1521.27 2212.73h5.55v5.70h-5.55zM1532.36 2212.73h11.09v5.70h-11.09zM1549.00 2212.73h5.55v5.70h-5.55zM1560.09 2212.73h5.55v5.70h-5.55zM1582.27 2212.73h11.09v5.70h-11.09zM1598.91 2212.73h11.09v5.70h-11.09zM1427.00 2218.27h5.55v5.70h-5.55zM1438.09 2218.27h16.64v5.70h-16.64zM1460.27 2218.27h5.55v5.70h-5.55zM1476.91 2218.27h5.55v5.70h-5.55zM1493.55 2218.27h5.55v5.70h-5.55zM1510.18 2218.27h16.64v5.70h-16.64zM1532.36 2218.27h5.55v5.70h-5.55zM1543.45 2218.27h44.36v5.70h-44.36zM1427.00 2223.82h5.55v5.70h-5.55zM1438.09 2223.82h16.64v5.70h-16.64zM1460.27 2223.82h5.55v5.70h-5.55zM1476.91 2223.82h5.55v5.70h-5.55zM1488.00 2223.82h5.55v5.70h-5.55zM1504.64 2223.82h5.55v5.70h-5.55zM1515.73 2223.82h22.18v5.70h-22.18zM1549.00 2223.82h11.09v5.70h-11.09zM1565.64 2223.82h5.55v5.70h-5.55zM1576.73 2223.82h22.18v5.70h-22.18zM1604.45 2223.82h5.55v5.70h-5.55zM1427.00 2229.36h5.55v5.70h-5.55zM1438.09 2229.36h16.64v5.70h-16.64zM1460.27 2229.36h5.55v5.70h-5.55zM1471.36 2229.36h11.09v5.70h-11.09zM1493.55 2229.36h5.55v5.70h-5.55zM1510.18 2229.36h5.55v5.70h-5.55zM1521.27 2229.36h5.55v5.70h-5.55zM1532.36 2229.36h16.64v5.70h-16.64zM1560.09 2229.36h5.55v5.70h-5.55zM1582.27 2229.36h5.55v5.70h-5.55zM1593.36 2229.36h16.64v5.70h-16.64zM1427.00 2234.91h5.55v5.70h-5.55zM1460.27 2234.91h5.55v5.70h-5.55zM1476.91 2234.91h5.55v5.70h-5.55zM1493.55 2234.91h5.55v5.70h-5.55zM1521.27 2234.91h22.18v5.70h-22.18zM1549.00 2234.91h22.18v5.70h-22.18zM1427.00 2240.45h38.82v5.70h-38.82zM1476.91 2240.45h5.55v5.70h-5.55zM1504.64 2240.45h11.09v5.70h-11.09zM1537.91 2240.45h16.64v5.70h-16.64zM1560.09 2240.45h16.64v5.70h-16.64zM1582.27 2240.45h5.55v5.70h-5.55zM1604.45 2240.45h5.55v5.70h-5.55z" fill="#2b2a29"/>
<text x="1522" y="2038.8" font-family="Liberation Sans" font-size="34.5" font-weight="bold" fill="#2b2a29" textLength="210" lengthAdjust="spacingAndGlyphs" text-anchor="middle" >590056-4000</text>
<rect x="1685" y="2051" width="207" height="207" fill="#fdfdfd"/>
<path d="M1697.00 2063.00h38.82v5.70h-38.82zM1741.36 2063.00h5.55v5.70h-5.55zM1758.00 2063.00h5.55v5.70h-5.55zM1774.64 2063.00h5.55v5.70h-5.55zM1791.27 2063.00h11.09v5.70h-11.09zM1813.45 2063.00h11.09v5.70h-11.09zM1830.09 2063.00h5.55v5.70h-5.55zM1841.18 2063.00h38.82v5.70h-38.82zM1697.00 2068.55h5.55v5.70h-5.55zM1730.27 2068.55h5.55v5.70h-5.55zM1752.45 2068.55h5.55v5.70h-5.55zM1763.55 2068.55h5.55v5.70h-5.55zM1780.18 2068.55h27.73v5.70h-27.73zM1819.00 2068.55h5.55v5.70h-5.55zM1830.09 2068.55h5.55v5.70h-5.55zM1841.18 2068.55h5.55v5.70h-5.55zM1874.45 2068.55h5.55v5.70h-5.55zM1697.00 2074.09h5.55v5.70h-5.55zM1708.09 2074.09h16.64v5.70h-16.64zM1730.27 2074.09h5.55v5.70h-5.55zM1741.36 2074.09h5.55v5.70h-5.55zM1752.45 2074.09h5.55v5.70h-5.55zM1763.55 2074.09h16.64v5.70h-16.64zM1785.73 2074.09h5.55v5.70h-5.55zM1796.82 2074.09h5.55v5.70h-5.55zM1813.45 2074.09h5.55v5.70h-5.55zM1824.55 2074.09h11.09v5.70h-11.09zM1841.18 2074.09h5.55v5.70h-5.55zM1852.27 2074.09h16.64v5.70h-16.64zM1874.45 2074.09h5.55v5.70h-5.55zM1697.00 2079.64h5.55v5.70h-5.55zM1708.09 2079.64h16.64v5.70h-16.64zM1730.27 2079.64h5.55v5.70h-5.55zM1746.91 2079.64h5.55v5.70h-5.55zM1769.09 2079.64h5.55v5.70h-5.55zM1785.73 2079.64h11.09v5.70h-11.09zM1802.36 2079.64h5.55v5.70h-5.55zM1813.45 2079.64h5.55v5.70h-5.55zM1824.55 2079.64h11.09v5.70h-11.09zM1841.18 2079.64h5.55v5.70h-5.55zM1852.27 2079.64h16.64v5.70h-16.64zM1874.45 2079.64h5.55v5.70h-5.55zM1697.00 2085.18h5.55v5.70h-5.55zM1708.09 2085.18h16.64v5.70h-16.64zM1730.27 2085.18h5.55v5.70h-5.55zM1741.36 2085.18h11.09v5.70h-11.09zM1763.55 2085.18h5.55v5.70h-5.55zM1774.64 2085.18h22.18v5.70h-22.18zM1802.36 2085.18h16.64v5.70h-16.64zM1830.09 2085.18h5.55v5.70h-5.55zM1841.18 2085.18h5.55v5.70h-5.55zM1852.27 2085.18h16.64v5.70h-16.64zM1874.45 2085.18h5.55v5.70h-5.55zM1697.00 2090.73h5.55v5.70h-5.55zM1730.27 2090.73h5.55v5.70h-5.55zM1769.09 2090.73h22.18v5.70h-22.18zM1796.82 2090.73h16.64v5.70h-16.64zM1830.09 2090.73h5.55v5.70h-5.55zM1841.18 2090.73h5.55v5.70h-5.55zM1874.45 2090.73h5.55v5.70h-5.55zM1697.00 2096.27h38.82v5.70h-38.82zM1741.36 2096.27h5.55v5.70h-5.55zM1752.45 2096.27h5.55v5.70h-5.55zM1763.55 2096.27h5.55v5.70h-5.55zM1774.64 2096.27h5.55v5.70h-5.55zM1785.73 2096.27h5.55v5.70h-5.55zM1796.82 2096.27h5.55v5.70h-5.55zM1807.91 2096.27h5.55v5.70h-5.55zM1819.00 2096.27h5.55v5.70h-5.55zM1830.09 2096.27h5.55v5.70h-5.55zM1841.18 2096.27h38.82v5.70h-38.82zM1741.36 2101.82h16.64v5.70h-16.64zM1763.55 2101.82h11.09v5.70h-11.09zM1796.82 2101.82h11.09v5.70h-11.09zM1830.09 2101.82h5.55v5.70h-5.55zM1724.73 2107.36h11.09v5.70h-11.09zM1758.00 2107.36h11.09v5.70h-11.09zM1785.73 2107.36h11.09v5.70h-11.09zM1807.91 2107.36h5.55v5.70h-5.55zM1841.18 2107.36h5.55v5.70h-5.55zM1852.27 2107.36h5.55v5.70h-5.55zM1863.36 2107.36h5.55v5.70h-5.55zM1874.45 2107.36h5.55v5.70h-5.55zM1708.09 2112.91h11.09v5.70h-11.09zM1735.82 2112.91h5.55v5.70h-5.55zM1746.91 2112.91h22.18v5.70h-22.18zM1780.18 2112.91h38.82v5.70h-38.82zM1824.55 2112.91h16.64v5.70h-16.64zM1846.73 2112.91h16.64v5.70h-16.64zM1702.55 2118.45h5.55v5.70h-5.55zM1713.64 2118.45h5.55v5.70h-5.55zM1724.73 2118.45h22.18v5.70h-22.18zM1769.09 2118.45h5.55v5.70h-5.55zM1802.36 2118.45h11.09v5.70h-11.09zM1819.00 2118.45h5.55v5.70h-5.55zM1841.18 2118.45h11.09v5.70h-11.09zM1868.91 2118.45h5.55v5.70h-5.55zM1697.00 2124.00h5.55v5.70h-5.55zM1708.09 2124.00h5.55v5.70h-5.55zM1719.18 2124.00h5.55v5.70h-5.55zM1763.55 2124.00h11.09v5.70h-11.09zM1780.18 2124.00h11.09v5.70h-11.09zM1802.36 2124.00h5.55v5.70h-5.55zM1813.45 2124.00h5.55v5.70h-5.55zM1830.09 2124.00h5.55v5.70h-5.55zM1846.73 2124.00h5.55v5.70h-5.55zM1857.82 2124.00h11.09v5.70h-11.09zM1697.00 2129.55h16.64v5.70h-16.64zM1719.18 2129.55h22.18v5.70h-22.18zM1746.91 2129.55h22.18v5.70h-22.18zM1780.18 2129.55h16.64v5.70h-16.64zM1802.36 2129.55h5.55v5.70h-5.55zM1813.45 2129.55h5.55v5.70h-5.55zM1841.18 2129.55h5.55v5.70h-5.55zM1702.55 2135.09h5.55v5.70h-5.55zM1713.64 2135.09h11.09v5.70h-11.09zM1735.82 2135.09h5.55v5.70h-5.55zM1746.91 2135.09h11.09v5.70h-11.09zM1763.55 2135.09h5.55v5.70h-5.55zM1774.64 2135.09h33.27v5.70h-33.27zM1813.45 2135.09h5.55v5.70h-5.55zM1824.55 2135.09h5.55v5.70h-5.55zM1835.64 2135.09h11.09v5.70h-11.09zM1857.82 2135.09h11.09v5.70h-11.09zM1874.45 2135.09h5.55v5.70h-5.55zM1697.00 2140.64h5.55v5.70h-5.55zM1708.09 2140.64h33.27v5.70h-33.27zM1758.00 2140.64h11.09v5.70h-11.09zM1774.64 2140.64h5.55v5.70h-5.55zM1785.73 2140.64h5.55v5.70h-5.55zM1802.36 2140.64h11.09v5.70h-11.09zM1819.00 2140.64h5.55v5.70h-5.55zM1835.64 2140.64h11.09v5.70h-11.09zM1852.27 2140.64h11.09v5.70h-11.09zM1868.91 2140.64h5.55v5.70h-5.55zM1713.64 2146.18h16.64v5.70h-16.64zM1746.91 2146.18h5.55v5.70h-5.55zM1769.09 2146.18h5.55v5.70h-5.55zM1796.82 2146.18h5.55v5.70h-5.55zM1824.55 2146.18h16.64v5.70h-16.64zM1852.27 2146.18h5.55v5.70h-5.55zM1863.36 2146.18h5.55v5.70h-5.55zM1874.45 2146.18h5.55v5.70h-5.55zM1697.00 2151.73h5.55v5.70h-5.55zM1708.09 2151.73h11.09v5.70h-11.09zM1730.27 2151.73h11.09v5.70h-11.09zM1774.64 2151.73h11.09v5.70h-11.09zM1807.91 2151.73h5.55v5.70h-5.55zM1846.73 2151.73h11.09v5.70h-11.09zM1702.55 2157.27h5.55v5.70h-5.55zM1719.18 2157.27h11.09v5.70h-11.09zM1741.36 2157.27h5.55v5.70h-5.55zM1752.45 2157.27h11.09v5.70h-11.09zM1791.27 2157.27h5.55v5.70h-5.55zM1824.55 2157.27h22.18v5.70h-22.18zM1868.91 2157.27h11.09v5.70h-11.09zM1697.00 2162.82h5.55v5.70h-5.55zM1708.09 2162.82h5.55v5.70h-5.55zM1730.27 2162.82h5.55v5.70h-5.55zM1758.00 2162.82h16.64v5.70h-16.64zM1802.36 2162.82h27.73v5.70h-27.73zM1835.64 2162.82h11.09v5.70h-11.09zM1852.27 2162.82h27.73v5.70h-27.73zM1697.00 2168.36h5.55v5.70h-5.55zM1719.18 2168.36h5.55v5.70h-5.55zM1741.36 2168.36h5.55v5.70h-5.55zM1752.45 2168.36h5.55v5.70h-5.55zM1763.55 2168.36h22.18v5.70h-22.18zM1791.27 2168.36h5.55v5.70h-5.55zM1802.36 2168.36h5.55v5.70h-5.55zM1819.00 2168.36h16.64v5.70h-16.64zM1846.73 2168.36h5.55v5.70h-5.55zM1857.82 2168.36h22.18v5.70h-22.18zM1697.00 2173.91h5.55v5.70h-5.55zM1708.09 2173.91h5.55v5.70h-5.55zM1724.73 2173.91h16.64v5.70h-16.64zM1746.91 2173.91h11.09v5.70h-11.09zM1807.91 2173.91h5.55v5.70h-5.55zM1819.00 2173.91h5.55v5.70h-5.55zM1846.73 2173.91h16.64v5.70h-16.64zM1868.91 2173.91h5.55v5.70h-5.55zM1697.00 2179.45h5.55v5.70h-5.55zM1708.09 2179.45h5.55v5.70h-5.55zM1741.36 2179.45h5.55v5.70h-5.55zM1763.55 2179.45h22.18v5.70h-22.18zM1802.36 2179.45h11.09v5.70h-11.09zM1824.55 2179.45h16.64v5.70h-16.64zM1846.73 2179.45h11.09v5.70h-11.09zM1697.00 2185.00h5.55v5.70h-5.55zM1719.18 2185.00h22.18v5.70h-22.18zM1752.45 2185.00h5.55v5.70h-5.55zM1785.73 2185.00h22.18v5.70h-22.18zM1813.45 2185.00h5.55v5.70h-5.55zM1830.09 2185.00h5.55v5.70h-5.55zM1852.27 2185.00h16.64v5.70h-16.64zM1697.00 2190.55h5.55v5.70h-5.55zM1708.09 2190.55h11.09v5.70h-11.09zM1724.73 2190.55h5.55v5.70h-5.55zM1735.82 2190.55h11.09v5.70h-11.09zM1752.45 2190.55h5.55v5.70h-5.55zM1763.55 2190.55h5.55v5.70h-5.55zM1774.64 2190.55h5.55v5.70h-5.55zM1785.73 2190.55h5.55v5.70h-5.55zM1802.36 2190.55h5.55v5.70h-5.55zM1830.09 2190.55h5.55v5.70h-5.55zM1846.73 2190.55h5.55v5.70h-5.55zM1857.82 2190.55h11.09v5.70h-11.09zM1874.45 2190.55h5.55v5.70h-5.55zM1697.00 2196.09h27.73v5.70h-27.73zM1730.27 2196.09h5.55v5.70h-5.55zM1741.36 2196.09h5.55v5.70h-5.55zM1752.45 2196.09h5.55v5.70h-5.55zM1763.55 2196.09h11.09v5.70h-11.09zM1791.27 2196.09h5.55v5.70h-5.55zM1807.91 2196.09h5.55v5.70h-5.55zM1819.00 2196.09h44.36v5.70h-44.36zM1868.91 2196.09h11.09v5.70h-11.09zM1741.36 2201.64h5.55v5.70h-5.55zM1758.00 2201.64h11.09v5.70h-11.09zM1791.27 2201.64h5.55v5.70h-5.55zM1819.00 2201.64h16.64v5.70h-16.64zM1852.27 2201.64h5.55v5.70h-5.55zM1863.36 2201.64h5.55v5.70h-5.55zM1874.45 2201.64h5.55v5.70h-5.55zM1697.00 2207.18h38.82v5.70h-38.82zM1769.09 2207.18h16.64v5.70h-16.64zM1791.27 2207.18h5.55v5.70h-5.55zM1813.45 2207.18h5.55v5.70h-5.55zM1824.55 2207.18h11.09v5.70h-11.09zM1841.18 2207.18h5.55v5.70h-5.55zM1852.27 2207.18h5.55v5.70h-5.55zM1868.91 2207.18h5.55v5.70h-5.55zM1697.00 2212.73h5.55v5.70h-5.55zM1730.27 2212.73h5.55v5.70h-5.55zM1741.36 2212.73h11.09v5.70h-11.09zM1763.55 2212.73h5.55v5.70h-5.55zM1774.64 2212.73h16.64v5.70h-16.64zM1796.82 2212.73h11.09v5.70h-11.09zM1830.09 2212.73h5.55v5.70h-5.55zM1852.27 2212.73h22.18v5.70h-22.18zM1697.00 2218.27h5.55v5.70h-5.55zM1708.09 2218.27h16.64v5.70h-16.64zM1730.27 2218.27h5.55v5.70h-5.55zM1758.00 2218.27h27.73v5.70h-27.73zM1791.27 2218.27h5.55v5.70h-5.55zM1807.91 2218.27h11.09v5.70h-11.09zM1830.09 2218.27h27.73v5.70h-27.73zM1868.91 2218.27h11.09v5.70h-11.09zM1697.00 2223.82h5.55v5.70h-5.55zM1708.09 2223.82h16.64v5.70h-16.64zM1730.27 2223.82h5.55v5.70h-5.55zM1746.91 2223.82h5.55v5.70h-5.55zM1758.00 2223.82h11.09v5.70h-11.09zM1785.73 2223.82h22.18v5.70h-22.18zM1819.00 2223.82h22.18v5.70h-22.18zM1846.73 2223.82h16.64v5.70h-16.64zM1874.45 2223.82h5.55v5.70h-5.55zM1697.00 2229.36h5.55v5.70h-5.55zM1708.09 2229.36h16.64v5.70h-16.64zM1730.27 2229.36h5.55v5.70h-5.55zM1746.91 2229.36h5.55v5.70h-5.55zM1763.55 2229.36h5.55v5.70h-5.55zM1780.18 2229.36h5.55v5.70h-5.55zM1791.27 2229.36h5.55v5.70h-5.55zM1802.36 2229.36h16.64v5.70h-16.64zM1830.09 2229.36h5.55v5.70h-5.55zM1852.27 2229.36h5.55v5.70h-5.55zM1863.36 2229.36h16.64v5.70h-16.64zM1697.00 2234.91h5.55v5.70h-5.55zM1730.27 2234.91h5.55v5.70h-5.55zM1746.91 2234.91h5.55v5.70h-5.55zM1791.27 2234.91h22.18v5.70h-22.18zM1819.00 2234.91h11.09v5.70h-11.09zM1835.64 2234.91h5.55v5.70h-5.55zM1863.36 2234.91h5.55v5.70h-5.55zM1697.00 2240.45h38.82v5.70h-38.82zM1746.91 2240.45h16.64v5.70h-16.64zM1769.09 2240.45h5.55v5.70h-5.55zM1780.18 2240.45h16.64v5.70h-16.64zM1802.36 2240.45h5.55v5.70h-5.55zM1813.45 2240.45h5.55v5.70h-5.55zM1824.55 2240.45h11.09v5.70h-11.09zM1857.82 2240.45h5.55v5.70h-5.55zM1868.91 2240.45h5.55v5.70h-5.55z" fill="#2b2a29"/>
<text x="1792" y="2038.8" font-family="Liberation Sans" font-size="34.5" font-weight="bold" fill="#2b2a29" textLength="210" lengthAdjust="spacingAndGlyphs" text-anchor="middle" >590057-3000</text>
<rect x="1956.2" y="2051" width="207" height="207" fill="#fdfdfd"/>
<path d="M1968.20 2063.00h38.82v5.70h-38.82zM2023.65 2063.00h22.18v5.70h-22.18zM2051.38 2063.00h22.18v5.70h-22.18zM2079.11 2063.00h11.09v5.70h-11.09zM2095.75 2063.00h5.55v5.70h-5.55zM2112.38 2063.00h38.82v5.70h-38.82zM1968.20 2068.55h5.55v5.70h-5.55zM2001.47 2068.55h5.55v5.70h-5.55zM2012.56 2068.55h5.55v5.70h-5.55zM2023.65 2068.55h5.55v5.70h-5.55zM2034.75 2068.55h5.55v5.70h-5.55zM2090.20 2068.55h16.64v5.70h-16.64zM2112.38 2068.55h5.55v5.70h-5.55zM2145.65 2068.55h5.55v5.70h-5.55zM1968.20 2074.09h5.55v5.70h-5.55zM1979.29 2074.09h16.64v5.70h-16.64zM2001.47 2074.09h5.55v5.70h-5.55zM2018.11 2074.09h5.55v5.70h-5.55zM2029.20 2074.09h5.55v5.70h-5.55zM2040.29 2074.09h5.55v5.70h-5.55zM2062.47 2074.09h44.36v5.70h-44.36zM2112.38 2074.09h5.55v5.70h-5.55zM2123.47 2074.09h16.64v5.70h-16.64zM2145.65 2074.09h5.55v5.70h-5.55zM1968.20 2079.64h5.55v5.70h-5.55zM1979.29 2079.64h16.64v5.70h-16.64zM2001.47 2079.64h5.55v5.70h-5.55zM2012.56 2079.64h5.55v5.70h-5.55zM2029.20 2079.64h11.09v5.70h-11.09zM2079.11 2079.64h22.18v5.70h-22.18zM2112.38 2079.64h5.55v5.70h-5.55zM2123.47 2079.64h16.64v5.70h-16.64zM2145.65 2079.64h5.55v5.70h-5.55zM1968.20 2085.18h5.55v5.70h-5.55zM1979.29 2085.18h16.64v5.70h-16.64zM2001.47 2085.18h5.55v5.70h-5.55zM2023.65 2085.18h16.64v5.70h-16.64zM2045.84 2085.18h16.64v5.70h-16.64zM2073.56 2085.18h16.64v5.70h-16.64zM2095.75 2085.18h5.55v5.70h-5.55zM2112.38 2085.18h5.55v5.70h-5.55zM2123.47 2085.18h16.64v5.70h-16.64zM2145.65 2085.18h5.55v5.70h-5.55zM1968.20 2090.73h5.55v5.70h-5.55zM2001.47 2090.73h5.55v5.70h-5.55zM2018.11 2090.73h11.09v5.70h-11.09zM2034.75 2090.73h11.09v5.70h-11.09zM2051.38 2090.73h5.55v5.70h-5.55zM2062.47 2090.73h11.09v5.70h-11.09zM2079.11 2090.73h11.09v5.70h-11.09zM2095.75 2090.73h5.55v5.70h-5.55zM2112.38 2090.73h5.55v5.70h-5.55zM2145.65 2090.73h5.55v5.70h-5.55zM1968.20 2096.27h38.82v5.70h-38.82zM2012.56 2096.27h5.55v5.70h-5.55zM2023.65 2096.27h5.55v5.70h-5.55zM2034.75 2096.27h5.55v5.70h-5.55zM2045.84 2096.27h5.55v5.70h-5.55zM2056.93 2096.27h5.55v5.70h-5.55zM2068.02 2096.27h5.55v5.70h-5.55zM2079.11 2096.27h5.55v5.70h-5.55zM2090.20 2096.27h5.55v5.70h-5.55zM2101.29 2096.27h5.55v5.70h-5.55zM2112.38 2096.27h38.82v5.70h-38.82zM2018.11 2101.82h5.55v5.70h-5.55zM2029.20 2101.82h5.55v5.70h-5.55zM2040.29 2101.82h5.55v5.70h-5.55zM2062.47 2101.82h5.55v5.70h-5.55zM2079.11 2101.82h5.55v5.70h-5.55zM2090.20 2101.82h16.64v5.70h-16.64zM1979.29 2107.36h5.55v5.70h-5.55zM1995.93 2107.36h16.64v5.70h-16.64zM2018.11 2107.36h5.55v5.70h-5.55zM2029.20 2107.36h11.09v5.70h-11.09zM2056.93 2107.36h22.18v5.70h-22.18zM2090.20 2107.36h5.55v5.70h-5.55zM2112.38 2107.36h22.18v5.70h-22.18zM2140.11 2107.36h5.55v5.70h-5.55zM1990.38 2112.91h11.09v5.70h-11.09zM2007.02 2112.91h16.64v5.70h-16.64zM2029.20 2112.91h11.09v5.70h-11.09zM2045.84 2112.91h16.64v5.70h-16.64zM2068.02 2112.91h22.18v5.70h-22.18zM2095.75 2112.91h5.55v5.70h-5.55zM2106.84 2112.91h5.55v5.70h-5.55zM2117.93 2112.91h16.64v5.70h-16.64zM2140.11 2112.91h11.09v5.70h-11.09zM1973.75 2118.45h16.64v5.70h-16.64zM1995.93 2118.45h22.18v5.70h-22.18zM2034.75 2118.45h16.64v5.70h-16.64zM2056.93 2118.45h5.55v5.70h-5.55zM2073.56 2118.45h16.64v5.70h-16.64zM2112.38 2118.45h22.18v5.70h-22.18zM1968.20 2124.00h11.09v5.70h-11.09zM2012.56 2124.00h5.55v5.70h-5.55zM2029.20 2124.00h11.09v5.70h-11.09zM2045.84 2124.00h5.55v5.70h-5.55zM2062.47 2124.00h11.09v5.70h-11.09zM2079.11 2124.00h5.55v5.70h-5.55zM2095.75 2124.00h5.55v5.70h-5.55zM2106.84 2124.00h5.55v5.70h-5.55zM2123.47 2124.00h5.55v5.70h-5.55zM2134.56 2124.00h16.64v5.70h-16.64zM1973.75 2129.55h5.55v5.70h-5.55zM1984.84 2129.55h11.09v5.70h-11.09zM2001.47 2129.55h5.55v5.70h-5.55zM2012.56 2129.55h5.55v5.70h-5.55zM2023.65 2129.55h16.64v5.70h-16.64zM2062.47 2129.55h16.64v5.70h-16.64zM2112.38 2129.55h5.55v5.70h-5.55zM2123.47 2129.55h5.55v5.70h-5.55zM2134.56 2129.55h16.64v5.70h-16.64zM1984.84 2135.09h11.09v5.70h-11.09zM2012.56 2135.09h5.55v5.70h-5.55zM2023.65 2135.09h44.36v5.70h-44.36zM2079.11 2135.09h11.09v5.70h-11.09zM2095.75 2135.09h11.09v5.70h-11.09zM2112.38 2135.09h5.55v5.70h-5.55zM2134.56 2135.09h11.09v5.70h-11.09zM1968.20 2140.64h11.09v5.70h-11.09zM1990.38 2140.64h16.64v5.70h-16.64zM2012.56 2140.64h11.09v5.70h-11.09zM2034.75 2140.64h5.55v5.70h-5.55zM2045.84 2140.64h11.09v5.70h-11.09zM2062.47 2140.64h11.09v5.70h-11.09zM2079.11 2140.64h5.55v5.70h-5.55zM2101.29 2140.64h5.55v5.70h-5.55zM2112.38 2140.64h16.64v5.70h-16.64zM2134.56 2140.64h5.55v5.70h-5.55zM2145.65 2140.64h5.55v5.70h-5.55zM1968.20 2146.18h5.55v5.70h-5.55zM1979.29 2146.18h5.55v5.70h-5.55zM1990.38 2146.18h11.09v5.70h-11.09zM2007.02 2146.18h22.18v5.70h-22.18zM2051.38 2146.18h5.55v5.70h-5.55zM2084.65 2146.18h5.55v5.70h-5.55zM2095.75 2146.18h22.18v5.70h-22.18zM2123.47 2146.18h5.55v5.70h-5.55zM2140.11 2146.18h11.09v5.70h-11.09zM1973.75 2151.73h5.55v5.70h-5.55zM1984.84 2151.73h11.09v5.70h-11.09zM2001.47 2151.73h5.55v5.70h-5.55zM2012.56 2151.73h5.55v5.70h-5.55zM2029.20 2151.73h16.64v5.70h-16.64zM2056.93 2151.73h16.64v5.70h-16.64zM2079.11 2151.73h5.55v5.70h-5.55zM2095.75 2151.73h11.09v5.70h-11.09zM2140.11 2151.73h11.09v5.70h-11.09zM1968.20 2157.27h11.09v5.70h-11.09zM1990.38 2157.27h5.55v5.70h-5.55zM2007.02 2157.27h5.55v5.70h-5.55zM2018.11 2157.27h5.55v5.70h-5.55zM2040.29 2157.27h44.36v5.70h-44.36zM2090.20 2157.27h5.55v5.70h-5.55zM2101.29 2157.27h5.55v5.70h-5.55zM2112.38 2157.27h16.64v5.70h-16.64zM2134.56 2157.27h16.64v5.70h-16.64zM1979.29 2162.82h11.09v5.70h-11.09zM1995.93 2162.82h22.18v5.70h-22.18zM2023.65 2162.82h33.27v5.70h-33.27zM2068.02 2162.82h11.09v5.70h-11.09zM2090.20 2162.82h22.18v5.70h-22.18zM2123.47 2162.82h5.55v5.70h-5.55zM2134.56 2162.82h11.09v5.70h-11.09zM1968.20 2168.36h16.64v5.70h-16.64zM2007.02 2168.36h22.18v5.70h-22.18zM2034.75 2168.36h5.55v5.70h-5.55zM2045.84 2168.36h5.55v5.70h-5.55zM2062.47 2168.36h5.55v5.70h-5.55zM2073.56 2168.36h16.64v5.70h-16.64zM2095.75 2168.36h11.09v5.70h-11.09zM2112.38 2168.36h5.55v5.70h-5.55zM2129.02 2168.36h5.55v5.70h-5.55zM2145.65 2168.36h5.55v5.70h-5.55zM1979.29 2173.91h16.64v5.70h-16.64zM2001.47 2173.91h5.55v5.70h-5.55zM2012.56 2173.91h5.55v5.70h-5.55zM2029.20 2173.91h11.09v5.70h-11.09zM2051.38 2173.91h5.55v5.70h-5.55zM2068.02 2173.91h5.55v5.70h-5.55zM2079.11 2173.91h11.09v5.70h-11.09zM2095.75 2173.91h5.55v5.70h-5.55zM2106.84 2173.91h5.55v5.70h-5.55zM2134.56 2173.91h5.55v5.70h-5.55zM2145.65 2173.91h5.55v5.70h-5.55zM1968.20 2179.45h5.55v5.70h-5.55zM1979.29 2179.45h22.18v5.70h-22.18zM2018.11 2179.45h11.09v5.70h-11.09zM2034.75 2179.45h11.09v5.70h-11.09zM2051.38 2179.45h11.09v5.70h-11.09zM2073.56 2179.45h5.55v5.70h-5.55zM2090.20 2179.45h61.00v5.70h-61.00zM1990.38 2185.00h22.18v5.70h-22.18zM2029.20 2185.00h16.64v5.70h-16.64zM2056.93 2185.00h5.55v5.70h-5.55zM2073.56 2185.00h5.55v5.70h-5.55zM2084.65 2185.00h5.55v5.70h-5.55zM2095.75 2185.00h11.09v5.70h-11.09zM2112.38 2185.00h5.55v5.70h-5.55zM2123.47 2185.00h5.55v5.70h-5.55zM2140.11 2185.00h11.09v5.70h-11.09zM1973.75 2190.55h11.09v5.70h-11.09zM1990.38 2190.55h5.55v5.70h-5.55zM2007.02 2190.55h16.64v5.70h-16.64zM2029.20 2190.55h11.09v5.70h-11.09zM2045.84 2190.55h11.09v5.70h-11.09zM2062.47 2190.55h5.55v5.70h-5.55zM2079.11 2190.55h16.64v5.70h-16.64zM2101.29 2190.55h11.09v5.70h-11.09zM1984.84 2196.09h5.55v5.70h-5.55zM2001.47 2196.09h11.09v5.70h-11.09zM2023.65 2196.09h5.55v5.70h-5.55zM2034.75 2196.09h22.18v5.70h-22.18zM2068.02 2196.09h11.09v5.70h-11.09zM2084.65 2196.09h44.36v5.70h-44.36zM2134.56 2196.09h11.09v5.70h-11.09zM2012.56 2201.64h5.55v5.70h-5.55zM2034.75 2201.64h16.64v5.70h-16.64zM2062.47 2201.64h16.64v5.70h-16.64zM2090.20 2201.64h5.55v5.70h-5.55zM2101.29 2201.64h5.55v5.70h-5.55zM2123.47 2201.64h22.18v5.70h-22.18zM1968.20 2207.18h38.82v5.70h-38.82zM2023.65 2207.18h11.09v5.70h-11.09zM2040.29 2207.18h5.55v5.70h-5.55zM2073.56 2207.18h16.64v5.70h-16.64zM2101.29 2207.18h5.55v5.70h-5.55zM2112.38 2207.18h5.55v5.70h-5.55zM2123.47 2207.18h5.55v5.70h-5.55zM2140.11 2207.18h11.09v5.70h-11.09zM1968.20 2212.73h5.55v5.70h-5.55zM2001.47 2212.73h5.55v5.70h-5.55zM2012.56 2212.73h5.55v5.70h-5.55zM2023.65 2212.73h16.64v5.70h-16.64zM2051.38 2212.73h11.09v5.70h-11.09zM2079.11 2212.73h11.09v5.70h-11.09zM2095.75 2212.73h11.09v5.70h-11.09zM2123.47 2212.73h11.09v5.70h-11.09zM1968.20 2218.27h5.55v5.70h-5.55zM1979.29 2218.27h16.64v5.70h-16.64zM2001.47 2218.27h5.55v5.70h-5.55zM2012.56 2218.27h11.09v5.70h-11.09zM2034.75 2218.27h5.55v5.70h-5.55zM2045.84 2218.27h11.09v5.70h-11.09zM2068.02 2218.27h11.09v5.70h-11.09zM2095.75 2218.27h33.27v5.70h-33.27zM2134.56 2218.27h11.09v5.70h-11.09zM1968.20 2223.82h5.55v5.70h-5.55zM1979.29 2223.82h16.64v5.70h-16.64zM2001.47 2223.82h5.55v5.70h-5.55zM2012.56 2223.82h11.09v5.70h-11.09zM2034.75 2223.82h11.09v5.70h-11.09zM2062.47 2223.82h22.18v5.70h-22.18zM2090.20 2223.82h11.09v5.70h-11.09zM2123.47 2223.82h11.09v5.70h-11.09zM2140.11 2223.82h5.55v5.70h-5.55zM1968.20 2229.36h5.55v5.70h-5.55zM1979.29 2229.36h16.64v5.70h-16.64zM2001.47 2229.36h5.55v5.70h-5.55zM2029.20 2229.36h5.55v5.70h-5.55zM2056.93 2229.36h5.55v5.70h-5.55zM2068.02 2229.36h5.55v5.70h-5.55zM2084.65 2229.36h11.09v5.70h-11.09zM2101.29 2229.36h11.09v5.70h-11.09zM2117.93 2229.36h11.09v5.70h-11.09zM2140.11 2229.36h11.09v5.70h-11.09zM1968.20 2234.91h5.55v5.70h-5.55zM2001.47 2234.91h5.55v5.70h-5.55zM2018.11 2234.91h5.55v5.70h-5.55zM2029.20 2234.91h11.09v5.70h-11.09zM2051.38 2234.91h27.73v5.70h-27.73zM2095.75 2234.91h11.09v5.70h-11.09zM2117.93 2234.91h5.55v5.70h-5.55zM2129.02 2234.91h11.09v5.70h-11.09zM1968.20 2240.45h38.82v5.70h-38.82zM2018.11 2240.45h16.64v5.70h-16.64zM2062.47 2240.45h38.82v5.70h-38.82zM2117.93 2240.45h5.55v5.70h-5.55z" fill="#2b2a29"/>
<text x="2063" y="2038.8" font-family="Liberation Sans" font-size="34.5" font-weight="bold" fill="#2b2a29" textLength="210" lengthAdjust="spacingAndGlyphs" text-anchor="middle" >590057-4000</text>
<text x="2292" y="2141.3" font-family="Liberation Sans" font-size="49.5" font-weight="bold" fill="#2b2a29" textLength="360" lengthAdjust="spacingAndGlyphs" >www.lightstar.ru</text>
</svg></body></html>
